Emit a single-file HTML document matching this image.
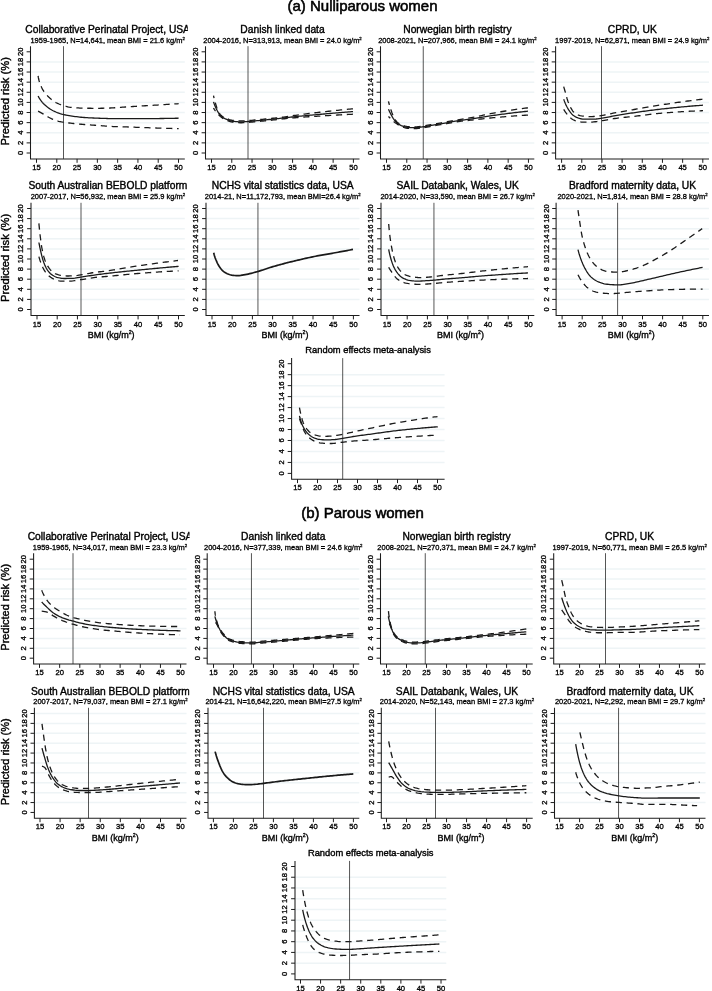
<!DOCTYPE html>
<html lang="en"><head><meta charset="utf-8"><title>Predicted risk by BMI</title>
<style>
html,body{margin:0;padding:0;background:#fff}
body{width:712px;height:991px;overflow:hidden}
svg{display:block}
text{font-family:'Liberation Sans', Arial, Helvetica, sans-serif;fill:#000;stroke:#000;stroke-width:0.25px}
.hd{stroke-width:0.55px;font-size:15px;text-anchor:middle}
.ti{stroke-width:0.38px;text-anchor:middle}
.su{stroke-width:0.3px;font-size:7.48px;text-anchor:middle}
.tk{stroke-width:0.32px;font-size:7.6px;text-anchor:middle}
.yt{stroke-width:0.4px;text-anchor:middle}
.xt{stroke-width:0.35px;font-size:9.0px;text-anchor:middle}
</style></head><body>
<svg width="712" height="991" viewBox="0 0 712 991">
<rect width="712" height="991" fill="#fff"/>
<text class="hd" x="362.5" y="10.9">(a) Nulliparous women</text>
<clipPath id="cA1"><rect x="10.5" y="20.8" width="177.3" height="16"/></clipPath>
<g><line x1="31" y1="142.88" x2="184.8" y2="142.88" stroke="#eef4f6" stroke-width="1.5"/>
<line x1="31" y1="132.76" x2="184.8" y2="132.76" stroke="#eef4f6" stroke-width="1.5"/>
<line x1="31" y1="122.64" x2="184.8" y2="122.64" stroke="#eef4f6" stroke-width="1.5"/>
<line x1="31" y1="112.52" x2="184.8" y2="112.52" stroke="#eef4f6" stroke-width="1.5"/>
<line x1="31" y1="102.4" x2="184.8" y2="102.4" stroke="#eef4f6" stroke-width="1.5"/>
<line x1="31" y1="92.28" x2="184.8" y2="92.28" stroke="#eef4f6" stroke-width="1.5"/>
<line x1="31" y1="82.16" x2="184.8" y2="82.16" stroke="#eef4f6" stroke-width="1.5"/>
<line x1="31" y1="72.04" x2="184.8" y2="72.04" stroke="#eef4f6" stroke-width="1.5"/>
<line x1="31" y1="61.92" x2="184.8" y2="61.92" stroke="#eef4f6" stroke-width="1.5"/>
<line x1="63.5" y1="46.2" x2="63.5" y2="158.9" stroke="#161616" stroke-width="0.73"/>
<path d="M38.1 75.9 L38.34 77.47 L38.66 79.01 L39.04 80.52 L39.48 82 L39.97 83.44 L40.5 84.86 L41.07 86.24 L41.67 87.59 L42.3 88.9 L43.04 90.2 L43.88 91.47 L44.81 92.71 L45.8 93.92 L46.84 95.08 L47.9 96.2 L48.97 97.27 L50.06 98.31 L51.21 99.32 L52.41 100.3 L53.66 101.21 L54.94 102.05 L56.24 102.77 L57.6 103.42 L59.01 104 L60.45 104.53 L61.91 105.02 L63.36 105.48 L64.82 105.94 L66.28 106.38 L67.76 106.77 L69.25 107.08 L70.74 107.28 L72.25 107.44 L73.76 107.6 L75.27 107.74 L76.8 107.86 L78.32 107.97 L79.85 108.06 L81.37 108.13 L82.9 108.17 L84.42 108.2 L85.94 108.22 L87.46 108.24 L88.98 108.25 L90.51 108.27 L92.03 108.28 L93.55 108.29 L95.07 108.29 L96.6 108.3 L98.12 108.3 L99.64 108.29 L101.16 108.27 L102.68 108.24 L104.21 108.2 L105.73 108.15 L107.25 108.1 L108.77 108.04 L110.29 107.98 L111.81 107.92 L113.33 107.85 L114.85 107.77 L116.37 107.68 L117.89 107.57 L119.41 107.46 L120.92 107.34 L122.44 107.22 L123.96 107.1 L125.48 106.99 L127 106.87 L128.51 106.77 L130.03 106.68 L131.55 106.58 L133.07 106.48 L134.59 106.39 L136.11 106.3 L137.63 106.21 L139.15 106.12 L140.67 106.02 L142.19 105.93 L143.71 105.85 L145.23 105.76 L146.75 105.67 L148.27 105.58 L149.79 105.49 L151.3 105.4 L152.82 105.31 L154.34 105.21 L155.86 105.12 L157.38 105.03 L158.9 104.93 L160.42 104.84 L161.94 104.75 L163.46 104.65 L164.98 104.56 L166.5 104.46 L168.02 104.37 L169.54 104.27 L171.05 104.18 L172.57 104.08 L174.09 103.99 L175.61 103.89 L177.13 103.8 L178.65 103.7" fill="none" stroke="#1a1a1a" stroke-width="1.3" stroke-dasharray="6.2 4.7"/>
<path d="M38.1 111.2 L39.45 111.91 L40.79 112.63 L42.13 113.37 L43.44 114.14 L44.74 114.95 L46.04 115.75 L47.35 116.54 L48.67 117.28 L50.03 117.97 L51.4 118.66 L52.79 119.32 L54.19 119.92 L55.61 120.45 L57.06 120.88 L58.53 121.27 L60.02 121.61 L61.52 121.92 L63.03 122.19 L64.53 122.42 L66.04 122.62 L67.56 122.81 L69.07 122.98 L70.59 123.16 L72.1 123.32 L73.62 123.49 L75.13 123.65 L76.65 123.8 L78.17 123.95 L79.69 124.1 L81.2 124.24 L82.72 124.37 L84.24 124.5 L85.76 124.63 L87.28 124.74 L88.8 124.85 L90.32 124.96 L91.84 125.06 L93.36 125.17 L94.88 125.27 L96.41 125.37 L97.93 125.48 L99.45 125.59 L100.97 125.71 L102.49 125.83 L104.01 125.95 L105.53 126.07 L107.05 126.18 L108.57 126.29 L110.09 126.39 L111.61 126.47 L113.13 126.54 L114.66 126.6 L116.18 126.65 L117.7 126.7 L119.23 126.74 L120.75 126.79 L122.28 126.83 L123.8 126.87 L125.32 126.91 L126.85 126.96 L128.37 127.01 L129.89 127.06 L131.42 127.11 L132.94 127.17 L134.47 127.22 L135.99 127.28 L137.51 127.33 L139.04 127.39 L140.56 127.44 L142.08 127.5 L143.61 127.55 L145.13 127.61 L146.65 127.67 L148.18 127.72 L149.7 127.78 L151.22 127.83 L152.75 127.88 L154.27 127.94 L155.79 127.99 L157.32 128.04 L158.84 128.09 L160.37 128.14 L161.89 128.19 L163.41 128.23 L164.94 128.28 L166.46 128.33 L167.98 128.38 L169.51 128.43 L171.03 128.47 L172.55 128.52 L174.08 128.56 L175.6 128.61 L177.13 128.66 L178.65 128.7" fill="none" stroke="#1a1a1a" stroke-width="1.3" stroke-dasharray="6.2 4.7"/>
<path d="M38.1 96 L38.83 97.37 L39.61 98.7 L40.45 99.98 L41.35 101.19 L42.29 102.34 L43.31 103.46 L44.4 104.53 L45.55 105.57 L46.74 106.56 L47.96 107.49 L49.19 108.36 L50.46 109.19 L51.77 109.97 L53.12 110.71 L54.5 111.39 L55.89 112.01 L57.29 112.57 L58.72 113.09 L60.18 113.58 L61.64 114.01 L63.12 114.4 L64.59 114.76 L66.08 115.08 L67.58 115.37 L69.09 115.64 L70.59 115.88 L72.09 116.1 L73.6 116.32 L75.11 116.53 L76.63 116.73 L78.14 116.92 L79.66 117.09 L81.17 117.25 L82.69 117.38 L84.21 117.5 L85.73 117.6 L87.24 117.7 L88.77 117.78 L90.29 117.87 L91.81 117.94 L93.33 118.01 L94.86 118.07 L96.38 118.13 L97.9 118.19 L99.43 118.24 L100.95 118.3 L102.47 118.35 L103.99 118.4 L105.52 118.45 L107.04 118.5 L108.56 118.53 L110.09 118.57 L111.61 118.59 L113.13 118.61 L114.66 118.63 L116.18 118.64 L117.7 118.66 L119.23 118.67 L120.75 118.68 L122.28 118.69 L123.8 118.7 L125.32 118.7 L126.85 118.7 L128.37 118.7 L129.89 118.7 L131.42 118.7 L132.94 118.69 L134.47 118.69 L135.99 118.69 L137.51 118.68 L139.04 118.68 L140.56 118.67 L142.08 118.67 L143.61 118.66 L145.13 118.65 L146.65 118.64 L148.18 118.63 L149.7 118.62 L151.23 118.61 L152.75 118.6 L154.27 118.58 L155.8 118.57 L157.32 118.55 L158.84 118.53 L160.37 118.52 L161.89 118.5 L163.41 118.48 L164.94 118.45 L166.46 118.43 L167.98 118.41 L169.51 118.38 L171.03 118.36 L172.56 118.33 L174.08 118.3 L175.6 118.27 L177.13 118.23 L178.65 118.2" fill="none" stroke="#1a1a1a" stroke-width="1.3"/>
<path d="M30.5 46.2 V158.9 H184.8" fill="none" stroke="#1c1c1c" stroke-width="1.05"/>
<path d="M30.5 153 h-3.9 M30.5 142.88 h-3.9 M30.5 132.76 h-3.9 M30.5 122.64 h-3.9 M30.5 112.52 h-3.9 M30.5 102.4 h-3.9 M30.5 92.28 h-3.9 M30.5 82.16 h-3.9 M30.5 72.04 h-3.9 M30.5 61.92 h-3.9 M30.5 51.8 h-3.9 M36.5 158.9 v3.9 M56.79 158.9 v3.9 M77.07 158.9 v3.9 M97.36 158.9 v3.9 M117.64 158.9 v3.9 M137.93 158.9 v3.9 M158.21 158.9 v3.9 M178.5 158.9 v3.9" fill="none" stroke="#1c1c1c" stroke-width="1"/>
<text class="tk" transform="translate(22.9 153) rotate(-90)">0</text>
<text class="tk" transform="translate(22.9 142.88) rotate(-90)">2</text>
<text class="tk" transform="translate(22.9 132.76) rotate(-90)">4</text>
<text class="tk" transform="translate(22.9 122.64) rotate(-90)">6</text>
<text class="tk" transform="translate(22.9 112.52) rotate(-90)">8</text>
<text class="tk" transform="translate(22.9 102.4) rotate(-90)">10</text>
<text class="tk" transform="translate(22.9 92.28) rotate(-90)">12</text>
<text class="tk" transform="translate(22.9 82.16) rotate(-90)">14</text>
<text class="tk" transform="translate(22.9 72.04) rotate(-90)">16</text>
<text class="tk" transform="translate(22.9 61.92) rotate(-90)">18</text>
<text class="tk" transform="translate(22.9 51.8) rotate(-90)">20</text>
<text class="tk" x="36.5" y="170">15</text>
<text class="tk" x="56.79" y="170">20</text>
<text class="tk" x="77.07" y="170">25</text>
<text class="tk" x="97.36" y="170">30</text>
<text class="tk" x="117.64" y="170">35</text>
<text class="tk" x="137.93" y="170">40</text>
<text class="tk" x="158.21" y="170">45</text>
<text class="tk" x="178.5" y="170">50</text>
<text clip-path="url(#cA1)" class="ti" style="font-size:10.25px" x="107.65" y="32.8">Collaborative Perinatal Project, USA</text>
<text class="su" x="107.65" y="42.9">1959-1965, N=14,641, mean BMI = 21.6 kg/m<tspan dy="-2.9" font-size="4.3">2</tspan></text>
<text class="yt" style="font-size:11.2px" transform="translate(9.1 101.25) rotate(-90)">Predicted risk (%)</text></g>
<clipPath id="cA2"><rect x="185.5" y="20.8" width="177" height="16"/></clipPath>
<g><line x1="206" y1="142.88" x2="359.5" y2="142.88" stroke="#eef4f6" stroke-width="1.5"/>
<line x1="206" y1="132.76" x2="359.5" y2="132.76" stroke="#eef4f6" stroke-width="1.5"/>
<line x1="206" y1="122.64" x2="359.5" y2="122.64" stroke="#eef4f6" stroke-width="1.5"/>
<line x1="206" y1="112.52" x2="359.5" y2="112.52" stroke="#eef4f6" stroke-width="1.5"/>
<line x1="206" y1="102.4" x2="359.5" y2="102.4" stroke="#eef4f6" stroke-width="1.5"/>
<line x1="206" y1="92.28" x2="359.5" y2="92.28" stroke="#eef4f6" stroke-width="1.5"/>
<line x1="206" y1="82.16" x2="359.5" y2="82.16" stroke="#eef4f6" stroke-width="1.5"/>
<line x1="206" y1="72.04" x2="359.5" y2="72.04" stroke="#eef4f6" stroke-width="1.5"/>
<line x1="206" y1="61.92" x2="359.5" y2="61.92" stroke="#eef4f6" stroke-width="1.5"/>
<line x1="248" y1="46.2" x2="248" y2="158.9" stroke="#161616" stroke-width="0.73"/>
<path d="M353 108.8 L351.49 108.94 L349.97 109.08 L348.46 109.22 L346.95 109.37 L345.44 109.52 L343.92 109.66 L342.41 109.81 L340.9 109.97 L339.39 110.12 L337.88 110.28 L336.36 110.43 L334.85 110.59 L333.34 110.75 L331.83 110.91 L330.32 111.07 L328.81 111.24 L327.3 111.4 L325.79 111.57 L324.28 111.74 L322.77 111.91 L321.26 112.08 L319.75 112.25 L318.24 112.42 L316.73 112.6 L315.22 112.77 L313.71 112.95 L312.21 113.13 L310.7 113.31 L309.19 113.5 L307.68 113.69 L306.17 113.88 L304.67 114.07 L303.16 114.26 L301.65 114.46 L300.15 114.66 L298.64 114.86 L297.13 115.06 L295.63 115.27 L294.13 115.49 L292.62 115.72 L291.12 115.96 L289.62 116.19 L288.12 116.42 L286.62 116.64 L285.11 116.85 L283.61 117.05 L282.1 117.23 L280.59 117.41 L279.08 117.58 L277.57 117.75 L276.06 117.91 L274.55 118.07 L273.03 118.23 L271.52 118.39 L270.01 118.54 L268.5 118.7 L266.99 118.85 L265.48 119 L263.96 119.14 L262.45 119.29 L260.94 119.43 L259.43 119.57 L257.91 119.72 L256.4 119.87 L254.89 120.01 L253.37 120.15 L251.86 120.29 L250.35 120.42 L248.83 120.53 L247.32 120.63 L245.8 120.74 L244.28 120.84 L242.76 120.92 L241.25 120.95 L239.73 120.93 L238.2 120.87 L236.67 120.77 L235.15 120.64 L233.64 120.48 L232.15 120.31 L230.68 120.01 L229.23 119.54 L227.8 118.96 L226.4 118.36 L224.98 117.73 L223.56 117.04 L222.23 116.26 L221.08 115.38 L220.13 114.31 L219.29 113.01 L218.54 111.62 L217.88 110.24 L217.29 108.85 L216.76 107.43 L216.27 105.98 L215.81 104.52 L215.37 103.06 L214.95 101.61 L214.55 100.14 L214.17 98.67 L213.82 97.19 L213.5 95.7" fill="none" stroke="#1a1a1a" stroke-width="1.3" stroke-dasharray="6.2 4.7"/>
<path d="M353 114.2 L351.47 114.28 L349.94 114.36 L348.42 114.43 L346.89 114.51 L345.36 114.6 L343.83 114.68 L342.31 114.76 L340.78 114.84 L339.25 114.93 L337.72 115.01 L336.2 115.1 L334.67 115.19 L333.14 115.27 L331.62 115.36 L330.09 115.45 L328.56 115.54 L327.03 115.63 L325.51 115.72 L323.98 115.81 L322.45 115.91 L320.93 116 L319.4 116.09 L317.87 116.19 L316.35 116.28 L314.82 116.38 L313.29 116.47 L311.76 116.57 L310.24 116.66 L308.71 116.76 L307.18 116.86 L305.66 116.96 L304.13 117.06 L302.61 117.17 L301.08 117.28 L299.55 117.39 L298.03 117.51 L296.5 117.63 L294.98 117.75 L293.46 117.89 L291.93 118.02 L290.41 118.17 L288.89 118.31 L287.36 118.46 L285.84 118.61 L284.32 118.77 L282.8 118.92 L281.28 119.09 L279.76 119.26 L278.24 119.43 L276.72 119.61 L275.2 119.78 L273.68 119.95 L272.16 120.12 L270.64 120.28 L269.11 120.43 L267.59 120.59 L266.07 120.74 L264.55 120.89 L263.02 121.03 L261.5 121.18 L259.98 121.32 L258.46 121.47 L256.93 121.61 L255.41 121.76 L253.89 121.91 L252.36 122.04 L250.84 122.18 L249.31 122.3 L247.79 122.4 L246.26 122.51 L244.73 122.61 L243.21 122.7 L241.68 122.75 L240.15 122.74 L238.61 122.69 L237.07 122.6 L235.54 122.48 L234.02 122.33 L232.51 122.15 L231.03 121.9 L229.56 121.46 L228.11 120.89 L226.7 120.29 L225.31 119.66 L223.92 118.96 L222.58 118.19 L221.32 117.34 L220.17 116.38 L219.11 115.26 L218.09 114.1 L217.08 112.96 L216.1 111.78 L215.18 110.56 L214.31 109.3 L213.5 108" fill="none" stroke="#1a1a1a" stroke-width="1.3" stroke-dasharray="6.2 4.7"/>
<path d="M213.5 101.85 L214.01 103.3 L214.55 104.73 L215.13 106.14 L215.74 107.54 L216.38 108.94 L217.06 110.31 L217.8 111.65 L218.58 112.98 L219.42 114.31 L220.35 115.53 L221.4 116.53 L222.63 117.39 L223.99 118.15 L225.42 118.83 L226.82 119.44 L228.24 120.04 L229.69 120.6 L231.16 121.03 L232.65 121.27 L234.15 121.44 L235.67 121.59 L237.21 121.71 L238.75 121.8 L240.28 121.84 L241.81 121.84 L243.34 121.79 L244.87 121.7 L246.4 121.6 L247.92 121.49 L249.45 121.39 L250.97 121.26 L252.5 121.13 L254.02 120.99 L255.54 120.85 L257.07 120.7 L258.59 120.55 L260.11 120.41 L261.64 120.27 L263.16 120.12 L264.68 119.97 L266.2 119.83 L267.73 119.67 L269.25 119.52 L270.77 119.37 L272.29 119.21 L273.81 119.04 L275.33 118.88 L276.85 118.7 L278.37 118.53 L279.89 118.36 L281.41 118.19 L282.93 118.02 L284.45 117.85 L285.97 117.68 L287.49 117.51 L289.01 117.34 L290.53 117.17 L292.05 117.01 L293.58 116.84 L295.1 116.68 L296.62 116.52 L298.14 116.37 L299.66 116.22 L301.18 116.07 L302.71 115.92 L304.23 115.78 L305.75 115.63 L307.28 115.49 L308.8 115.35 L310.32 115.21 L311.85 115.07 L313.37 114.93 L314.89 114.79 L316.42 114.66 L317.94 114.52 L319.46 114.39 L320.99 114.25 L322.51 114.12 L324.03 113.98 L325.56 113.85 L327.08 113.72 L328.61 113.59 L330.13 113.46 L331.65 113.33 L333.18 113.2 L334.7 113.07 L336.23 112.94 L337.75 112.82 L339.28 112.69 L340.8 112.57 L342.33 112.44 L343.85 112.32 L345.37 112.2 L346.9 112.08 L348.42 111.96 L349.95 111.84 L351.47 111.72 L353 111.6" fill="none" stroke="#1a1a1a" stroke-width="1.3"/>
<path d="M205.5 46.2 V158.9 H359.5" fill="none" stroke="#1c1c1c" stroke-width="1.05"/>
<path d="M205.5 153 h-3.9 M205.5 142.88 h-3.9 M205.5 132.76 h-3.9 M205.5 122.64 h-3.9 M205.5 112.52 h-3.9 M205.5 102.4 h-3.9 M205.5 92.28 h-3.9 M205.5 82.16 h-3.9 M205.5 72.04 h-3.9 M205.5 61.92 h-3.9 M205.5 51.8 h-3.9 M211.5 158.9 v3.9 M231.77 158.9 v3.9 M252.04 158.9 v3.9 M272.31 158.9 v3.9 M292.59 158.9 v3.9 M312.86 158.9 v3.9 M333.13 158.9 v3.9 M353.4 158.9 v3.9" fill="none" stroke="#1c1c1c" stroke-width="1"/>
<text class="tk" transform="translate(197.9 153) rotate(-90)">0</text>
<text class="tk" transform="translate(197.9 142.88) rotate(-90)">2</text>
<text class="tk" transform="translate(197.9 132.76) rotate(-90)">4</text>
<text class="tk" transform="translate(197.9 122.64) rotate(-90)">6</text>
<text class="tk" transform="translate(197.9 112.52) rotate(-90)">8</text>
<text class="tk" transform="translate(197.9 102.4) rotate(-90)">10</text>
<text class="tk" transform="translate(197.9 92.28) rotate(-90)">12</text>
<text class="tk" transform="translate(197.9 82.16) rotate(-90)">14</text>
<text class="tk" transform="translate(197.9 72.04) rotate(-90)">16</text>
<text class="tk" transform="translate(197.9 61.92) rotate(-90)">18</text>
<text class="tk" transform="translate(197.9 51.8) rotate(-90)">20</text>
<text class="tk" x="211.5" y="170">15</text>
<text class="tk" x="231.77" y="170">20</text>
<text class="tk" x="252.04" y="170">25</text>
<text class="tk" x="272.31" y="170">30</text>
<text class="tk" x="292.59" y="170">35</text>
<text class="tk" x="312.86" y="170">40</text>
<text class="tk" x="333.13" y="170">45</text>
<text class="tk" x="353.4" y="170">50</text>
<text clip-path="url(#cA2)" class="ti" style="font-size:10.25px" x="282.5" y="32.8">Danish linked data</text>
<text class="su" x="282.5" y="42.9">2004-2016, N=313,913, mean BMI = 24.0 kg/m<tspan dy="-2.9" font-size="4.3">2</tspan></text></g>
<clipPath id="cA3"><rect x="360.5" y="20.8" width="176.8" height="16"/></clipPath>
<g><line x1="381" y1="142.88" x2="534.3" y2="142.88" stroke="#eef4f6" stroke-width="1.5"/>
<line x1="381" y1="132.76" x2="534.3" y2="132.76" stroke="#eef4f6" stroke-width="1.5"/>
<line x1="381" y1="122.64" x2="534.3" y2="122.64" stroke="#eef4f6" stroke-width="1.5"/>
<line x1="381" y1="112.52" x2="534.3" y2="112.52" stroke="#eef4f6" stroke-width="1.5"/>
<line x1="381" y1="102.4" x2="534.3" y2="102.4" stroke="#eef4f6" stroke-width="1.5"/>
<line x1="381" y1="92.28" x2="534.3" y2="92.28" stroke="#eef4f6" stroke-width="1.5"/>
<line x1="381" y1="82.16" x2="534.3" y2="82.16" stroke="#eef4f6" stroke-width="1.5"/>
<line x1="381" y1="72.04" x2="534.3" y2="72.04" stroke="#eef4f6" stroke-width="1.5"/>
<line x1="381" y1="61.92" x2="534.3" y2="61.92" stroke="#eef4f6" stroke-width="1.5"/>
<line x1="423.25" y1="46.2" x2="423.25" y2="158.9" stroke="#161616" stroke-width="0.73"/>
<path d="M528 107.8 L526.49 107.98 L524.98 108.16 L523.48 108.35 L521.97 108.55 L520.47 108.75 L518.96 108.96 L517.46 109.16 L515.96 109.38 L514.46 109.6 L512.96 109.82 L511.46 110.05 L509.96 110.28 L508.46 110.51 L506.96 110.75 L505.47 110.99 L503.97 111.24 L502.47 111.49 L500.98 111.74 L499.49 111.99 L497.99 112.25 L496.5 112.51 L495.01 112.77 L493.52 113.04 L492.03 113.32 L490.54 113.62 L489.06 113.93 L487.57 114.25 L486.09 114.57 L484.61 114.9 L483.13 115.23 L481.65 115.57 L480.17 115.9 L478.69 116.22 L477.2 116.54 L475.72 116.85 L474.23 117.15 L472.74 117.44 L471.25 117.71 L469.76 117.96 L468.26 118.2 L466.76 118.44 L465.26 118.66 L463.76 118.89 L462.26 119.12 L460.76 119.35 L459.27 119.59 L457.77 119.84 L456.28 120.1 L454.78 120.37 L453.29 120.64 L451.8 120.92 L450.31 121.2 L448.82 121.48 L447.33 121.75 L445.84 122.02 L444.34 122.28 L442.85 122.54 L441.35 122.79 L439.86 123.04 L438.36 123.29 L436.86 123.54 L435.37 123.8 L433.88 124.06 L432.38 124.33 L430.89 124.61 L429.4 124.9 L427.91 125.18 L426.42 125.45 L424.92 125.7 L423.42 125.91 L421.92 126.12 L420.41 126.34 L418.91 126.54 L417.4 126.7 L415.89 126.79 L414.37 126.8 L412.85 126.77 L411.32 126.73 L409.81 126.67 L408.31 126.6 L406.82 126.43 L405.32 126.09 L403.85 125.63 L402.4 125.1 L401 124.52 L399.64 123.89 L398.31 123.08 L397.14 122.14 L396.16 121.04 L395.28 119.78 L394.5 118.43 L393.79 117.09 L393.16 115.73 L392.57 114.33 L392.02 112.9 L391.51 111.47 L391.01 110.03 L390.53 108.6 L390.07 107.15 L389.63 105.7 L389.21 104.24 L388.82 102.78 L388.45 101.3" fill="none" stroke="#1a1a1a" stroke-width="1.3" stroke-dasharray="6.2 4.7"/>
<path d="M528 115.1 L526.48 115.18 L524.97 115.27 L523.45 115.36 L521.94 115.45 L520.42 115.55 L518.91 115.65 L517.39 115.75 L515.88 115.85 L514.36 115.96 L512.85 116.07 L511.33 116.18 L509.82 116.3 L508.31 116.42 L506.79 116.54 L505.28 116.66 L503.77 116.78 L502.26 116.91 L500.74 117.04 L499.23 117.17 L497.72 117.3 L496.21 117.43 L494.7 117.56 L493.19 117.7 L491.67 117.85 L490.16 118 L488.66 118.15 L487.15 118.31 L485.64 118.48 L484.13 118.65 L482.62 118.82 L481.11 118.99 L479.6 119.16 L478.09 119.34 L476.59 119.51 L475.08 119.69 L473.57 119.86 L472.06 120.03 L470.55 120.19 L469.04 120.35 L467.53 120.51 L466.02 120.66 L464.51 120.82 L463 120.98 L461.49 121.15 L459.99 121.34 L458.48 121.53 L456.98 121.75 L455.49 121.99 L453.99 122.26 L452.5 122.54 L451.01 122.83 L449.52 123.12 L448.03 123.41 L446.53 123.7 L445.04 123.96 L443.54 124.22 L442.05 124.48 L440.55 124.73 L439.05 124.98 L437.56 125.23 L436.06 125.48 L434.56 125.74 L433.07 126 L431.58 126.28 L430.08 126.57 L428.59 126.85 L427.1 127.13 L425.6 127.39 L424.1 127.62 L422.6 127.82 L421.1 128.04 L419.59 128.25 L418.08 128.43 L416.56 128.56 L415.05 128.6 L413.53 128.59 L412 128.55 L410.48 128.5 L408.97 128.43 L407.48 128.33 L405.99 128.06 L404.5 127.64 L403.04 127.14 L401.62 126.57 L400.24 125.98 L398.93 125.24 L397.66 124.38 L396.39 123.53 L395.14 122.66 L393.93 121.75 L392.8 120.74 L391.71 119.69 L390.61 118.63 L389.53 117.57 L388.45 116.5" fill="none" stroke="#1a1a1a" stroke-width="1.3" stroke-dasharray="6.2 4.7"/>
<path d="M388.45 109.15 L389.06 110.55 L389.7 111.94 L390.38 113.31 L391.08 114.66 L391.81 116 L392.58 117.33 L393.39 118.62 L394.27 119.86 L395.22 121.07 L396.25 122.21 L397.37 123.22 L398.6 124.14 L399.93 124.93 L401.29 125.54 L402.72 126.12 L404.18 126.65 L405.67 127.08 L407.17 127.39 L408.67 127.52 L410.19 127.59 L411.72 127.65 L413.25 127.68 L414.78 127.7 L416.3 127.67 L417.82 127.56 L419.34 127.38 L420.86 127.18 L422.37 126.96 L423.89 126.75 L425.39 126.52 L426.9 126.27 L428.4 125.99 L429.9 125.7 L431.4 125.42 L432.9 125.13 L434.4 124.87 L435.91 124.61 L437.41 124.35 L438.92 124.1 L440.42 123.85 L441.93 123.6 L443.43 123.34 L444.93 123.08 L446.44 122.81 L447.94 122.54 L449.44 122.25 L450.94 121.96 L452.44 121.67 L453.94 121.39 L455.44 121.12 L456.94 120.87 L458.45 120.63 L459.96 120.42 L461.47 120.21 L462.98 120.02 L464.5 119.83 L466.01 119.65 L467.53 119.47 L469.04 119.28 L470.56 119.08 L472.07 118.87 L473.58 118.65 L475.09 118.42 L476.59 118.18 L478.1 117.93 L479.61 117.68 L481.11 117.43 L482.62 117.17 L484.12 116.91 L485.63 116.66 L487.13 116.41 L488.64 116.16 L490.14 115.92 L491.65 115.69 L493.16 115.46 L494.67 115.25 L496.18 115.04 L497.69 114.83 L499.21 114.62 L500.72 114.42 L502.23 114.22 L503.74 114.02 L505.25 113.82 L506.77 113.63 L508.28 113.43 L509.8 113.24 L511.31 113.06 L512.83 112.87 L514.34 112.69 L515.86 112.51 L517.37 112.34 L518.89 112.16 L520.41 112 L521.92 111.83 L523.44 111.67 L524.96 111.51 L526.48 111.35 L528 111.2" fill="none" stroke="#1a1a1a" stroke-width="1.3"/>
<path d="M380.5 46.2 V158.9 H534.3" fill="none" stroke="#1c1c1c" stroke-width="1.05"/>
<path d="M380.5 153 h-3.9 M380.5 142.88 h-3.9 M380.5 132.76 h-3.9 M380.5 122.64 h-3.9 M380.5 112.52 h-3.9 M380.5 102.4 h-3.9 M380.5 92.28 h-3.9 M380.5 82.16 h-3.9 M380.5 72.04 h-3.9 M380.5 61.92 h-3.9 M380.5 51.8 h-3.9 M386.5 158.9 v3.9 M406.78 158.9 v3.9 M427.06 158.9 v3.9 M447.34 158.9 v3.9 M467.61 158.9 v3.9 M487.89 158.9 v3.9 M508.17 158.9 v3.9 M528.45 158.9 v3.9" fill="none" stroke="#1c1c1c" stroke-width="1"/>
<text class="tk" transform="translate(372.9 153) rotate(-90)">0</text>
<text class="tk" transform="translate(372.9 142.88) rotate(-90)">2</text>
<text class="tk" transform="translate(372.9 132.76) rotate(-90)">4</text>
<text class="tk" transform="translate(372.9 122.64) rotate(-90)">6</text>
<text class="tk" transform="translate(372.9 112.52) rotate(-90)">8</text>
<text class="tk" transform="translate(372.9 102.4) rotate(-90)">10</text>
<text class="tk" transform="translate(372.9 92.28) rotate(-90)">12</text>
<text class="tk" transform="translate(372.9 82.16) rotate(-90)">14</text>
<text class="tk" transform="translate(372.9 72.04) rotate(-90)">16</text>
<text class="tk" transform="translate(372.9 61.92) rotate(-90)">18</text>
<text class="tk" transform="translate(372.9 51.8) rotate(-90)">20</text>
<text class="tk" x="386.5" y="170">15</text>
<text class="tk" x="406.78" y="170">20</text>
<text class="tk" x="427.06" y="170">25</text>
<text class="tk" x="447.34" y="170">30</text>
<text class="tk" x="467.61" y="170">35</text>
<text class="tk" x="487.89" y="170">40</text>
<text class="tk" x="508.17" y="170">45</text>
<text class="tk" x="528.45" y="170">50</text>
<text clip-path="url(#cA3)" class="ti" style="font-size:10.25px" x="457.4" y="32.8">Norwegian birth registry</text>
<text class="su" x="457.4" y="42.9">2008-2021, N=207,966, mean BMI = 24.1 kg/m<tspan dy="-2.9" font-size="4.3">2</tspan></text></g>
<clipPath id="cA4"><rect x="535.6" y="20.8" width="176.4" height="16"/></clipPath>
<g><line x1="556.1" y1="142.88" x2="709" y2="142.88" stroke="#eef4f6" stroke-width="1.5"/>
<line x1="556.1" y1="132.76" x2="709" y2="132.76" stroke="#eef4f6" stroke-width="1.5"/>
<line x1="556.1" y1="122.64" x2="709" y2="122.64" stroke="#eef4f6" stroke-width="1.5"/>
<line x1="556.1" y1="112.52" x2="709" y2="112.52" stroke="#eef4f6" stroke-width="1.5"/>
<line x1="556.1" y1="102.4" x2="709" y2="102.4" stroke="#eef4f6" stroke-width="1.5"/>
<line x1="556.1" y1="92.28" x2="709" y2="92.28" stroke="#eef4f6" stroke-width="1.5"/>
<line x1="556.1" y1="82.16" x2="709" y2="82.16" stroke="#eef4f6" stroke-width="1.5"/>
<line x1="556.1" y1="72.04" x2="709" y2="72.04" stroke="#eef4f6" stroke-width="1.5"/>
<line x1="556.1" y1="61.92" x2="709" y2="61.92" stroke="#eef4f6" stroke-width="1.5"/>
<line x1="601.5" y1="46.2" x2="601.5" y2="158.9" stroke="#161616" stroke-width="0.73"/>
<path d="M563.7 86.6 L564.12 88.06 L564.54 89.51 L564.96 90.97 L565.38 92.43 L565.78 93.9 L566.17 95.37 L566.56 96.84 L566.97 98.3 L567.42 99.74 L567.9 101.18 L568.43 102.61 L568.99 104.04 L569.6 105.45 L570.25 106.81 L570.96 108.13 L571.74 109.44 L572.61 110.79 L573.57 112.05 L574.62 113.14 L575.75 113.95 L577.06 114.6 L578.52 115.15 L580.04 115.59 L581.53 115.87 L583.01 116.1 L584.52 116.3 L586.04 116.46 L587.57 116.57 L589.08 116.6 L590.6 116.59 L592.12 116.55 L593.64 116.5 L595.15 116.43 L596.66 116.32 L598.16 116.11 L599.66 115.84 L601.16 115.56 L602.65 115.3 L604.14 115.02 L605.63 114.73 L607.12 114.44 L608.61 114.13 L610.09 113.83 L611.58 113.53 L613.07 113.23 L614.56 112.95 L616.05 112.67 L617.54 112.4 L619.04 112.13 L620.53 111.86 L622.02 111.59 L623.52 111.33 L625.01 111.07 L626.51 110.81 L628 110.55 L629.5 110.29 L630.99 110.03 L632.49 109.77 L633.98 109.5 L635.48 109.24 L636.97 108.98 L638.47 108.72 L639.96 108.46 L641.45 108.19 L642.95 107.93 L644.44 107.67 L645.94 107.41 L647.44 107.16 L648.93 106.9 L650.43 106.65 L651.92 106.39 L653.42 106.14 L654.92 105.89 L656.41 105.65 L657.91 105.41 L659.41 105.17 L660.91 104.93 L662.41 104.7 L663.91 104.47 L665.41 104.24 L666.91 104.02 L668.41 103.79 L669.91 103.57 L671.41 103.34 L672.91 103.12 L674.41 102.9 L675.91 102.68 L677.41 102.47 L678.92 102.25 L680.42 102.04 L681.92 101.83 L683.43 101.62 L684.93 101.42 L686.43 101.21 L687.94 101.01 L689.44 100.82 L690.95 100.62 L692.45 100.43 L693.96 100.24 L695.46 100.05 L696.97 99.87 L698.48 99.69 L699.98 99.52 L701.49 99.36 L703 99.2" fill="none" stroke="#1a1a1a" stroke-width="1.3" stroke-dasharray="6.2 4.7"/>
<path d="M563.7 109.3 L564.48 110.64 L565.31 111.93 L566.2 113.17 L567.14 114.36 L568.13 115.51 L569.18 116.65 L570.3 117.74 L571.49 118.69 L572.74 119.48 L574.09 120.21 L575.52 120.84 L576.99 121.33 L578.45 121.65 L579.96 121.91 L581.49 122.1 L583.02 122.2 L584.54 122.2 L586.07 122.2 L587.6 122.2 L589.13 122.2 L590.65 122.19 L592.18 122.1 L593.7 121.94 L595.22 121.76 L596.73 121.57 L598.24 121.34 L599.75 121.09 L601.26 120.84 L602.76 120.59 L604.27 120.32 L605.77 120.05 L607.27 119.77 L608.78 119.49 L610.28 119.22 L611.78 118.96 L613.29 118.72 L614.8 118.5 L616.31 118.3 L617.83 118.11 L619.34 117.92 L620.86 117.75 L622.38 117.58 L623.89 117.42 L625.41 117.26 L626.93 117.1 L628.45 116.94 L629.97 116.79 L631.49 116.63 L633.01 116.46 L634.53 116.3 L636.05 116.12 L637.57 115.95 L639.08 115.76 L640.6 115.58 L642.12 115.39 L643.63 115.2 L645.15 115.01 L646.66 114.83 L648.18 114.64 L649.7 114.45 L651.21 114.27 L652.73 114.09 L654.25 113.92 L655.77 113.75 L657.28 113.59 L658.8 113.44 L660.32 113.29 L661.84 113.15 L663.36 113.03 L664.88 112.91 L666.4 112.79 L667.93 112.67 L669.45 112.56 L670.97 112.44 L672.49 112.33 L674.01 112.22 L675.54 112.12 L677.06 112.01 L678.58 111.91 L680.11 111.81 L681.63 111.71 L683.16 111.61 L684.68 111.52 L686.21 111.43 L687.73 111.34 L689.26 111.26 L690.78 111.18 L692.31 111.11 L693.83 111.04 L695.36 110.97 L696.89 110.91 L698.42 110.85 L699.94 110.79 L701.47 110.74 L703 110.7" fill="none" stroke="#1a1a1a" stroke-width="1.3" stroke-dasharray="6.2 4.7"/>
<path d="M563.7 99.2 L564.2 100.65 L564.74 102.07 L565.33 103.48 L565.95 104.86 L566.61 106.22 L567.31 107.56 L568.06 108.89 L568.87 110.19 L569.73 111.44 L570.65 112.65 L571.64 113.84 L572.72 114.91 L573.9 115.8 L575.2 116.61 L576.58 117.31 L577.99 117.85 L579.43 118.33 L580.92 118.75 L582.42 119.03 L583.92 119.12 L585.43 119.15 L586.96 119.18 L588.48 119.19 L590.01 119.2 L591.52 119.18 L593.04 119.13 L594.56 119.06 L596.08 118.98 L597.59 118.84 L599.1 118.65 L600.6 118.43 L602.11 118.21 L603.6 117.97 L605.1 117.7 L606.59 117.42 L608.08 117.12 L609.57 116.82 L611.06 116.51 L612.55 116.22 L614.05 115.94 L615.54 115.67 L617.04 115.41 L618.54 115.15 L620.03 114.9 L621.53 114.64 L623.03 114.4 L624.53 114.15 L626.03 113.91 L627.53 113.68 L629.03 113.45 L630.54 113.22 L632.04 113 L633.54 112.77 L635.04 112.55 L636.55 112.33 L638.05 112.12 L639.55 111.9 L641.06 111.68 L642.56 111.47 L644.07 111.26 L645.57 111.05 L647.08 110.85 L648.59 110.65 L650.09 110.45 L651.6 110.25 L653.11 110.06 L654.61 109.87 L656.12 109.68 L657.63 109.5 L659.14 109.32 L660.65 109.14 L662.16 108.97 L663.67 108.8 L665.17 108.64 L666.68 108.48 L668.19 108.32 L669.7 108.16 L671.21 108 L672.73 107.84 L674.24 107.69 L675.75 107.54 L677.26 107.39 L678.77 107.24 L680.28 107.09 L681.8 106.95 L683.31 106.81 L684.82 106.67 L686.33 106.53 L687.85 106.4 L689.36 106.26 L690.88 106.14 L692.39 106.01 L693.91 105.88 L695.42 105.76 L696.94 105.64 L698.45 105.53 L699.97 105.42 L701.48 105.31 L703 105.2" fill="none" stroke="#1a1a1a" stroke-width="1.3"/>
<path d="M555.6 46.2 V158.9 H709" fill="none" stroke="#1c1c1c" stroke-width="1.05"/>
<path d="M555.6 153 h-3.9 M555.6 142.88 h-3.9 M555.6 132.76 h-3.9 M555.6 122.64 h-3.9 M555.6 112.52 h-3.9 M555.6 102.4 h-3.9 M555.6 92.28 h-3.9 M555.6 82.16 h-3.9 M555.6 72.04 h-3.9 M555.6 61.92 h-3.9 M555.6 51.8 h-3.9 M561.6 158.9 v3.9 M581.77 158.9 v3.9 M601.94 158.9 v3.9 M622.11 158.9 v3.9 M642.29 158.9 v3.9 M662.46 158.9 v3.9 M682.63 158.9 v3.9 M702.8 158.9 v3.9" fill="none" stroke="#1c1c1c" stroke-width="1"/>
<text class="tk" transform="translate(548 153) rotate(-90)">0</text>
<text class="tk" transform="translate(548 142.88) rotate(-90)">2</text>
<text class="tk" transform="translate(548 132.76) rotate(-90)">4</text>
<text class="tk" transform="translate(548 122.64) rotate(-90)">6</text>
<text class="tk" transform="translate(548 112.52) rotate(-90)">8</text>
<text class="tk" transform="translate(548 102.4) rotate(-90)">10</text>
<text class="tk" transform="translate(548 92.28) rotate(-90)">12</text>
<text class="tk" transform="translate(548 82.16) rotate(-90)">14</text>
<text class="tk" transform="translate(548 72.04) rotate(-90)">16</text>
<text class="tk" transform="translate(548 61.92) rotate(-90)">18</text>
<text class="tk" transform="translate(548 51.8) rotate(-90)">20</text>
<text class="tk" x="561.6" y="170">15</text>
<text class="tk" x="581.77" y="170">20</text>
<text class="tk" x="601.94" y="170">25</text>
<text class="tk" x="622.11" y="170">30</text>
<text class="tk" x="642.29" y="170">35</text>
<text class="tk" x="662.46" y="170">40</text>
<text class="tk" x="682.63" y="170">45</text>
<text class="tk" x="702.8" y="170">50</text>
<text clip-path="url(#cA4)" class="ti" style="font-size:10.25px" x="632.3" y="32.8">CPRD, UK</text>
<text class="su" x="632.3" y="42.9">1997-2019, N=62,871, mean BMI = 24.9 kg/m<tspan dy="-2.9" font-size="4.3">2</tspan></text></g>
<clipPath id="cA5"><rect x="11" y="177.2" width="176.8" height="16"/></clipPath>
<g><line x1="31.5" y1="299.4" x2="184.8" y2="299.4" stroke="#eef4f6" stroke-width="1.5"/>
<line x1="31.5" y1="289.3" x2="184.8" y2="289.3" stroke="#eef4f6" stroke-width="1.5"/>
<line x1="31.5" y1="279.2" x2="184.8" y2="279.2" stroke="#eef4f6" stroke-width="1.5"/>
<line x1="31.5" y1="269.1" x2="184.8" y2="269.1" stroke="#eef4f6" stroke-width="1.5"/>
<line x1="31.5" y1="259" x2="184.8" y2="259" stroke="#eef4f6" stroke-width="1.5"/>
<line x1="31.5" y1="248.9" x2="184.8" y2="248.9" stroke="#eef4f6" stroke-width="1.5"/>
<line x1="31.5" y1="238.8" x2="184.8" y2="238.8" stroke="#eef4f6" stroke-width="1.5"/>
<line x1="31.5" y1="228.7" x2="184.8" y2="228.7" stroke="#eef4f6" stroke-width="1.5"/>
<line x1="31.5" y1="218.6" x2="184.8" y2="218.6" stroke="#eef4f6" stroke-width="1.5"/>
<line x1="31.5" y1="208.5" x2="184.8" y2="208.5" stroke="#eef4f6" stroke-width="1.5"/>
<line x1="81" y1="202.8" x2="81" y2="315.5" stroke="#161616" stroke-width="0.73"/>
<path d="M38.9 223.4 L39.03 224.91 L39.18 226.42 L39.32 227.93 L39.48 229.44 L39.64 230.94 L39.81 232.45 L39.98 233.95 L40.15 235.46 L40.33 236.96 L40.52 238.47 L40.71 239.97 L40.9 241.48 L41.1 242.98 L41.31 244.48 L41.54 245.98 L41.78 247.48 L42.05 248.96 L42.34 250.45 L42.65 251.94 L42.99 253.43 L43.36 254.91 L43.75 256.38 L44.18 257.83 L44.63 259.26 L45.13 260.68 L45.69 262.09 L46.33 263.5 L47.02 264.87 L47.77 266.2 L48.57 267.46 L49.43 268.68 L50.41 269.9 L51.47 271.06 L52.61 272.09 L53.81 272.91 L55.1 273.57 L56.51 274.17 L57.99 274.68 L59.49 275.08 L60.97 275.36 L62.46 275.59 L63.97 275.79 L65.49 275.93 L67 276 L68.52 275.99 L70.03 275.96 L71.55 275.9 L73.07 275.83 L74.58 275.74 L76.08 275.62 L77.58 275.42 L79.08 275.16 L80.57 274.89 L82.07 274.64 L83.56 274.38 L85.05 274.11 L86.54 273.83 L88.03 273.55 L89.53 273.27 L91.02 273 L92.51 272.74 L94 272.5 L95.5 272.29 L97.01 272.09 L98.51 271.92 L100.02 271.76 L101.53 271.6 L103.03 271.44 L104.54 271.26 L106.04 271.06 L107.54 270.86 L109.04 270.64 L110.54 270.42 L112.03 270.19 L113.53 269.96 L115.03 269.72 L116.52 269.47 L118.02 269.22 L119.51 268.97 L121.01 268.72 L122.5 268.46 L124 268.2 L125.49 267.95 L126.98 267.69 L128.48 267.44 L129.97 267.19 L131.47 266.94 L132.96 266.69 L134.46 266.45 L135.96 266.21 L137.46 265.99 L138.95 265.76 L140.45 265.54 L141.95 265.33 L143.45 265.11 L144.95 264.89 L146.45 264.68 L147.95 264.47 L149.45 264.25 L150.95 264.04 L152.45 263.83 L153.95 263.63 L155.46 263.42 L156.96 263.21 L158.46 263.01 L159.96 262.81 L161.46 262.61 L162.96 262.41 L164.47 262.21 L165.97 262.01 L167.47 261.82 L168.98 261.63 L170.48 261.43 L171.98 261.24 L173.49 261.06 L174.99 260.87 L176.5 260.68 L178 260.5" fill="none" stroke="#1a1a1a" stroke-width="1.3" stroke-dasharray="6.2 4.7"/>
<path d="M38.9 256.6 L39.3 258.07 L39.74 259.53 L40.22 260.98 L40.73 262.41 L41.27 263.82 L41.84 265.23 L42.44 266.63 L43.08 268.03 L43.78 269.39 L44.53 270.7 L45.36 271.94 L46.29 273.16 L47.31 274.33 L48.39 275.41 L49.52 276.38 L50.73 277.29 L52.02 278.16 L53.37 278.91 L54.75 279.51 L56.16 279.99 L57.63 280.44 L59.13 280.81 L60.65 281.05 L62.16 281.1 L63.67 281.1 L65.19 281.1 L66.71 281.1 L68.24 281.1 L69.76 281.1 L71.27 281.04 L72.78 280.91 L74.28 280.72 L75.79 280.48 L77.29 280.22 L78.8 279.96 L80.3 279.72 L81.8 279.5 L83.31 279.27 L84.81 279.02 L86.31 278.77 L87.8 278.51 L89.3 278.26 L90.8 278.02 L92.31 277.79 L93.81 277.59 L95.32 277.41 L96.83 277.26 L98.34 277.13 L99.85 277 L101.37 276.89 L102.88 276.77 L104.4 276.65 L105.91 276.52 L107.42 276.38 L108.94 276.24 L110.45 276.1 L111.96 275.95 L113.47 275.8 L114.99 275.65 L116.5 275.5 L118.01 275.34 L119.52 275.19 L121.03 275.04 L122.54 274.88 L124.06 274.73 L125.57 274.58 L127.08 274.43 L128.59 274.29 L130.1 274.14 L131.62 274 L133.13 273.86 L134.64 273.73 L136.16 273.6 L137.67 273.48 L139.18 273.36 L140.7 273.25 L142.21 273.13 L143.73 273.02 L145.24 272.91 L146.76 272.8 L148.27 272.69 L149.79 272.58 L151.3 272.47 L152.82 272.37 L154.33 272.26 L155.85 272.16 L157.36 272.06 L158.88 271.96 L160.39 271.86 L161.91 271.77 L163.43 271.68 L164.94 271.58 L166.46 271.49 L167.98 271.41 L169.49 271.32 L171.01 271.24 L172.53 271.15 L174.05 271.08 L175.56 271 L177.08 270.92 L178.6 270.85" fill="none" stroke="#1a1a1a" stroke-width="1.3" stroke-dasharray="6.2 4.7"/>
<path d="M38.9 242.5 L39.17 243.99 L39.46 245.48 L39.76 246.97 L40.07 248.45 L40.4 249.93 L40.74 251.4 L41.08 252.87 L41.44 254.35 L41.81 255.83 L42.2 257.3 L42.6 258.76 L43.04 260.21 L43.51 261.64 L44.01 263.06 L44.57 264.48 L45.18 265.89 L45.84 267.27 L46.55 268.6 L47.33 269.86 L48.22 271.1 L49.2 272.31 L50.27 273.42 L51.4 274.4 L52.6 275.25 L53.92 276.04 L55.31 276.74 L56.74 277.27 L58.17 277.64 L59.65 277.98 L61.16 278.26 L62.68 278.45 L64.19 278.5 L65.7 278.49 L67.21 278.47 L68.73 278.44 L70.25 278.39 L71.77 278.34 L73.27 278.28 L74.78 278.15 L76.28 277.93 L77.77 277.68 L79.27 277.41 L80.77 277.15 L82.26 276.92 L83.76 276.69 L85.26 276.46 L86.75 276.22 L88.25 275.98 L89.75 275.75 L91.24 275.51 L92.74 275.29 L94.24 275.07 L95.74 274.85 L97.24 274.65 L98.74 274.44 L100.24 274.24 L101.74 274.05 L103.25 273.86 L104.75 273.68 L106.25 273.5 L107.76 273.32 L109.26 273.15 L110.77 272.98 L112.27 272.81 L113.78 272.64 L115.28 272.47 L116.79 272.31 L118.29 272.14 L119.8 271.98 L121.3 271.82 L122.81 271.66 L124.32 271.51 L125.82 271.35 L127.33 271.2 L128.84 271.04 L130.35 270.89 L131.85 270.74 L133.36 270.58 L134.87 270.43 L136.37 270.28 L137.88 270.13 L139.39 269.98 L140.89 269.83 L142.4 269.68 L143.91 269.54 L145.42 269.39 L146.92 269.24 L148.43 269.1 L149.94 268.95 L151.45 268.81 L152.95 268.66 L154.46 268.52 L155.97 268.38 L157.48 268.24 L158.99 268.1 L160.49 267.96 L162 267.82 L163.51 267.68 L165.02 267.54 L166.53 267.41 L168.04 267.27 L169.55 267.14 L171.05 267 L172.56 266.87 L174.07 266.74 L175.58 266.61 L177.09 266.48 L178.6 266.35" fill="none" stroke="#1a1a1a" stroke-width="1.3"/>
<path d="M31 202.8 V315.5 H184.8" fill="none" stroke="#1c1c1c" stroke-width="1.05"/>
<path d="M31 309.5 h-3.9 M31 299.4 h-3.9 M31 289.3 h-3.9 M31 279.2 h-3.9 M31 269.1 h-3.9 M31 259 h-3.9 M31 248.9 h-3.9 M31 238.8 h-3.9 M31 228.7 h-3.9 M31 218.6 h-3.9 M31 208.5 h-3.9 M37 315.5 v3.9 M57.21 315.5 v3.9 M77.43 315.5 v3.9 M97.64 315.5 v3.9 M117.86 315.5 v3.9 M138.07 315.5 v3.9 M158.29 315.5 v3.9 M178.5 315.5 v3.9" fill="none" stroke="#1c1c1c" stroke-width="1"/>
<text class="tk" transform="translate(23.4 309.5) rotate(-90)">0</text>
<text class="tk" transform="translate(23.4 299.4) rotate(-90)">2</text>
<text class="tk" transform="translate(23.4 289.3) rotate(-90)">4</text>
<text class="tk" transform="translate(23.4 279.2) rotate(-90)">6</text>
<text class="tk" transform="translate(23.4 269.1) rotate(-90)">8</text>
<text class="tk" transform="translate(23.4 259) rotate(-90)">10</text>
<text class="tk" transform="translate(23.4 248.9) rotate(-90)">12</text>
<text class="tk" transform="translate(23.4 238.8) rotate(-90)">14</text>
<text class="tk" transform="translate(23.4 228.7) rotate(-90)">16</text>
<text class="tk" transform="translate(23.4 218.6) rotate(-90)">18</text>
<text class="tk" transform="translate(23.4 208.5) rotate(-90)">20</text>
<text class="tk" x="37" y="326.7">15</text>
<text class="tk" x="57.21" y="326.7">20</text>
<text class="tk" x="77.43" y="326.7">25</text>
<text class="tk" x="97.64" y="326.7">30</text>
<text class="tk" x="117.86" y="326.7">35</text>
<text class="tk" x="138.07" y="326.7">40</text>
<text class="tk" x="158.29" y="326.7">45</text>
<text class="tk" x="178.5" y="326.7">50</text>
<text clip-path="url(#cA5)" class="ti" style="font-size:10.25px" x="107.9" y="189.2">South Australian BEBOLD platform</text>
<text class="su" x="107.9" y="199.3">2007-2017, N=56,932, mean BMI = 25.9 kg/m<tspan dy="-2.9" font-size="4.3">2</tspan></text>
<text class="yt" style="font-size:11.2px" transform="translate(9.1 257.85) rotate(-90)">Predicted risk (%)</text>
<text class="xt" x="111.1" y="337.6">BMI (kg/m<tspan dy="-3.7" font-size="5.2">2</tspan><tspan dy="3.7">)</tspan></text></g>
<clipPath id="cA6"><rect x="186" y="177.2" width="176.5" height="16"/></clipPath>
<g><line x1="206.5" y1="299.4" x2="359.5" y2="299.4" stroke="#eef4f6" stroke-width="1.5"/>
<line x1="206.5" y1="289.3" x2="359.5" y2="289.3" stroke="#eef4f6" stroke-width="1.5"/>
<line x1="206.5" y1="279.2" x2="359.5" y2="279.2" stroke="#eef4f6" stroke-width="1.5"/>
<line x1="206.5" y1="269.1" x2="359.5" y2="269.1" stroke="#eef4f6" stroke-width="1.5"/>
<line x1="206.5" y1="259" x2="359.5" y2="259" stroke="#eef4f6" stroke-width="1.5"/>
<line x1="206.5" y1="248.9" x2="359.5" y2="248.9" stroke="#eef4f6" stroke-width="1.5"/>
<line x1="206.5" y1="238.8" x2="359.5" y2="238.8" stroke="#eef4f6" stroke-width="1.5"/>
<line x1="206.5" y1="228.7" x2="359.5" y2="228.7" stroke="#eef4f6" stroke-width="1.5"/>
<line x1="206.5" y1="218.6" x2="359.5" y2="218.6" stroke="#eef4f6" stroke-width="1.5"/>
<line x1="206.5" y1="208.5" x2="359.5" y2="208.5" stroke="#eef4f6" stroke-width="1.5"/>
<line x1="257.95" y1="202.8" x2="257.95" y2="315.5" stroke="#161616" stroke-width="0.73"/>
<path d="M213.7 252.75 L214.06 254.26 L214.47 255.74 L214.95 257.2 L215.47 258.63 L216.03 260.04 L216.63 261.42 L217.25 262.78 L217.91 264.12 L218.65 265.47 L219.46 266.79 L220.34 268.06 L221.28 269.25 L222.28 270.33 L223.4 271.36 L224.64 272.31 L225.94 273.12 L227.27 273.75 L228.69 274.31 L230.16 274.79 L231.65 275.13 L233.14 275.34 L234.65 275.52 L236.18 275.65 L237.69 275.7 L239.2 275.63 L240.71 275.44 L242.22 275.19 L243.72 274.92 L245.21 274.66 L246.69 274.37 L248.18 274.05 L249.66 273.7 L251.13 273.33 L252.6 272.95 L254.07 272.55 L255.54 272.15 L257 271.74 L258.46 271.33 L259.91 270.89 L261.36 270.42 L262.8 269.94 L264.23 269.45 L265.67 268.96 L267.11 268.47 L268.55 267.99 L270 267.53 L271.45 267.09 L272.91 266.66 L274.36 266.24 L275.82 265.82 L277.28 265.41 L278.75 265.01 L280.21 264.61 L281.68 264.21 L283.15 263.82 L284.62 263.44 L286.09 263.05 L287.56 262.68 L289.03 262.3 L290.5 261.93 L291.98 261.57 L293.45 261.21 L294.92 260.85 L296.4 260.5 L297.88 260.15 L299.35 259.8 L300.83 259.46 L302.31 259.12 L303.79 258.78 L305.28 258.45 L306.76 258.12 L308.24 257.79 L309.73 257.47 L311.21 257.16 L312.7 256.85 L314.19 256.54 L315.67 256.24 L317.16 255.95 L318.65 255.66 L320.14 255.38 L321.64 255.11 L323.13 254.84 L324.62 254.58 L326.12 254.32 L327.62 254.06 L329.11 253.8 L330.61 253.55 L332.11 253.29 L333.6 253.03 L335.1 252.77 L336.59 252.5 L338.09 252.23 L339.58 251.96 L341.07 251.68 L342.56 251.4 L344.06 251.12 L345.55 250.84 L347.04 250.55 L348.53 250.26 L350.02 249.98 L351.51 249.69 L353 249.4" fill="none" stroke="#1a1a1a" stroke-width="1.7"/>
<path d="M206 202.8 V315.5 H359.5" fill="none" stroke="#1c1c1c" stroke-width="1.05"/>
<path d="M206 309.5 h-3.9 M206 299.4 h-3.9 M206 289.3 h-3.9 M206 279.2 h-3.9 M206 269.1 h-3.9 M206 259 h-3.9 M206 248.9 h-3.9 M206 238.8 h-3.9 M206 228.7 h-3.9 M206 218.6 h-3.9 M206 208.5 h-3.9 M212 315.5 v3.9 M232.2 315.5 v3.9 M252.4 315.5 v3.9 M272.6 315.5 v3.9 M292.8 315.5 v3.9 M313 315.5 v3.9 M333.2 315.5 v3.9 M353.4 315.5 v3.9" fill="none" stroke="#1c1c1c" stroke-width="1"/>
<text class="tk" transform="translate(198.4 309.5) rotate(-90)">0</text>
<text class="tk" transform="translate(198.4 299.4) rotate(-90)">2</text>
<text class="tk" transform="translate(198.4 289.3) rotate(-90)">4</text>
<text class="tk" transform="translate(198.4 279.2) rotate(-90)">6</text>
<text class="tk" transform="translate(198.4 269.1) rotate(-90)">8</text>
<text class="tk" transform="translate(198.4 259) rotate(-90)">10</text>
<text class="tk" transform="translate(198.4 248.9) rotate(-90)">12</text>
<text class="tk" transform="translate(198.4 238.8) rotate(-90)">14</text>
<text class="tk" transform="translate(198.4 228.7) rotate(-90)">16</text>
<text class="tk" transform="translate(198.4 218.6) rotate(-90)">18</text>
<text class="tk" transform="translate(198.4 208.5) rotate(-90)">20</text>
<text class="tk" x="212" y="326.7">15</text>
<text class="tk" x="232.2" y="326.7">20</text>
<text class="tk" x="252.4" y="326.7">25</text>
<text class="tk" x="272.6" y="326.7">30</text>
<text class="tk" x="292.8" y="326.7">35</text>
<text class="tk" x="313" y="326.7">40</text>
<text class="tk" x="333.2" y="326.7">45</text>
<text class="tk" x="353.4" y="326.7">50</text>
<text clip-path="url(#cA6)" class="ti" style="font-size:10.25px" x="282.75" y="189.2">NCHS vital statistics data, USA</text>
<text class="su" x="282.75" y="199.3">2014-21, N=11,172,793, mean BMI=26.4 kg/m<tspan dy="-2.9" font-size="4.3">2</tspan></text>
<text class="xt" x="285.05" y="337.6">BMI (kg/m<tspan dy="-3.7" font-size="5.2">2</tspan><tspan dy="3.7">)</tspan></text></g>
<clipPath id="cA7"><rect x="361" y="177.2" width="176.3" height="16"/></clipPath>
<g><line x1="381.5" y1="299.4" x2="534.3" y2="299.4" stroke="#eef4f6" stroke-width="1.5"/>
<line x1="381.5" y1="289.3" x2="534.3" y2="289.3" stroke="#eef4f6" stroke-width="1.5"/>
<line x1="381.5" y1="279.2" x2="534.3" y2="279.2" stroke="#eef4f6" stroke-width="1.5"/>
<line x1="381.5" y1="269.1" x2="534.3" y2="269.1" stroke="#eef4f6" stroke-width="1.5"/>
<line x1="381.5" y1="259" x2="534.3" y2="259" stroke="#eef4f6" stroke-width="1.5"/>
<line x1="381.5" y1="248.9" x2="534.3" y2="248.9" stroke="#eef4f6" stroke-width="1.5"/>
<line x1="381.5" y1="238.8" x2="534.3" y2="238.8" stroke="#eef4f6" stroke-width="1.5"/>
<line x1="381.5" y1="228.7" x2="534.3" y2="228.7" stroke="#eef4f6" stroke-width="1.5"/>
<line x1="381.5" y1="218.6" x2="534.3" y2="218.6" stroke="#eef4f6" stroke-width="1.5"/>
<line x1="381.5" y1="208.5" x2="534.3" y2="208.5" stroke="#eef4f6" stroke-width="1.5"/>
<line x1="433.95" y1="202.8" x2="433.95" y2="315.5" stroke="#161616" stroke-width="0.73"/>
<path d="M388.7 224 L388.82 225.51 L388.94 227.02 L389.08 228.53 L389.23 230.04 L389.39 231.55 L389.55 233.05 L389.72 234.55 L389.9 236.06 L390.1 237.56 L390.3 239.06 L390.52 240.56 L390.75 242.06 L390.99 243.56 L391.24 245.05 L391.51 246.54 L391.78 248.03 L392.07 249.52 L392.36 251.02 L392.68 252.51 L393.02 253.99 L393.37 255.46 L393.76 256.92 L394.17 258.37 L394.62 259.8 L395.12 261.25 L395.67 262.69 L396.27 264.11 L396.92 265.49 L397.62 266.82 L398.37 268.08 L399.22 269.35 L400.17 270.62 L401.2 271.82 L402.3 272.9 L403.46 273.79 L404.68 274.49 L406.03 275.13 L407.47 275.7 L408.97 276.19 L410.47 276.58 L411.96 276.84 L413.44 277.04 L414.94 277.23 L416.46 277.39 L417.98 277.51 L419.5 277.58 L421.02 277.6 L422.53 277.56 L424.04 277.47 L425.55 277.35 L427.07 277.23 L428.58 277.1 L430.09 276.98 L431.59 276.83 L433.1 276.68 L434.61 276.52 L436.11 276.33 L437.61 276.13 L439.11 275.92 L440.61 275.71 L442.12 275.51 L443.62 275.31 L445.12 275.13 L446.63 274.97 L448.13 274.82 L449.64 274.69 L451.15 274.55 L452.66 274.42 L454.17 274.29 L455.68 274.15 L457.19 274 L458.69 273.84 L460.2 273.68 L461.7 273.51 L463.21 273.34 L464.71 273.17 L466.22 272.99 L467.72 272.8 L469.22 272.62 L470.73 272.43 L472.23 272.24 L473.74 272.06 L475.24 271.87 L476.74 271.68 L478.25 271.5 L479.75 271.31 L481.25 271.13 L482.76 270.96 L484.26 270.78 L485.77 270.61 L487.27 270.45 L488.78 270.29 L490.29 270.14 L491.79 269.98 L493.3 269.83 L494.81 269.68 L496.31 269.53 L497.82 269.38 L499.33 269.23 L500.84 269.08 L502.34 268.94 L503.85 268.79 L505.36 268.65 L506.87 268.51 L508.38 268.37 L509.88 268.23 L511.39 268.09 L512.9 267.96 L514.41 267.83 L515.92 267.69 L517.43 267.56 L518.94 267.43 L520.45 267.31 L521.96 267.18 L523.47 267.06 L524.98 266.94 L526.49 266.82 L528 266.7" fill="none" stroke="#1a1a1a" stroke-width="1.3" stroke-dasharray="6.2 4.7"/>
<path d="M388.7 267.25 L389.45 268.59 L390.24 269.9 L391.07 271.18 L391.92 272.45 L392.8 273.68 L393.71 274.93 L394.65 276.17 L395.63 277.36 L396.69 278.43 L397.82 279.39 L399.07 280.31 L400.4 281.14 L401.77 281.84 L403.17 282.35 L404.61 282.78 L406.1 283.16 L407.61 283.48 L409.14 283.73 L410.66 283.91 L412.17 284.04 L413.69 284.16 L415.22 284.26 L416.75 284.34 L418.28 284.39 L419.8 284.4 L421.33 284.37 L422.85 284.3 L424.38 284.2 L425.9 284.09 L427.42 283.98 L428.95 283.88 L430.47 283.77 L431.99 283.65 L433.51 283.53 L435.03 283.4 L436.55 283.25 L438.07 283.1 L439.59 282.95 L441.11 282.79 L442.63 282.64 L444.15 282.5 L445.67 282.38 L447.19 282.26 L448.71 282.15 L450.24 282.05 L451.76 281.95 L453.28 281.85 L454.81 281.75 L456.33 281.65 L457.85 281.56 L459.38 281.46 L460.9 281.37 L462.43 281.27 L463.95 281.17 L465.47 281.08 L467 280.98 L468.52 280.89 L470.04 280.79 L471.57 280.7 L473.09 280.61 L474.62 280.52 L476.14 280.43 L477.66 280.35 L479.19 280.26 L480.71 280.18 L482.24 280.1 L483.76 280.03 L485.28 279.95 L486.81 279.88 L488.33 279.82 L489.86 279.75 L491.38 279.69 L492.91 279.62 L494.43 279.56 L495.96 279.5 L497.48 279.44 L499.01 279.38 L500.53 279.32 L502.06 279.26 L503.58 279.21 L505.11 279.15 L506.64 279.1 L508.16 279.05 L509.69 278.99 L511.21 278.94 L512.74 278.9 L514.26 278.85 L515.79 278.8 L517.32 278.76 L518.84 278.72 L520.37 278.68 L521.89 278.64 L523.42 278.6 L524.95 278.56 L526.47 278.53 L528 278.5" fill="none" stroke="#1a1a1a" stroke-width="1.3" stroke-dasharray="6.2 4.7"/>
<path d="M388.7 249.3 L388.97 250.81 L389.28 252.31 L389.61 253.8 L389.96 255.29 L390.34 256.76 L390.74 258.23 L391.16 259.7 L391.61 261.16 L392.09 262.62 L392.61 264.06 L393.17 265.48 L393.78 266.87 L394.44 268.24 L395.16 269.61 L395.96 270.94 L396.8 272.22 L397.71 273.41 L398.7 274.56 L399.79 275.69 L400.97 276.72 L402.2 277.6 L403.48 278.32 L404.86 278.97 L406.31 279.56 L407.8 280.04 L409.29 280.37 L410.77 280.58 L412.29 280.77 L413.82 280.93 L415.35 281.04 L416.88 281.1 L418.41 281.09 L419.93 281.05 L421.46 280.98 L422.98 280.89 L424.51 280.8 L426.03 280.71 L427.56 280.63 L429.08 280.54 L430.6 280.44 L432.13 280.33 L433.65 280.22 L435.17 280.09 L436.69 279.93 L438.21 279.77 L439.72 279.6 L441.24 279.42 L442.76 279.26 L444.28 279.1 L445.8 278.97 L447.32 278.85 L448.84 278.74 L450.36 278.63 L451.89 278.52 L453.41 278.42 L454.93 278.31 L456.45 278.19 L457.97 278.06 L459.5 277.94 L461.02 277.81 L462.54 277.68 L464.06 277.55 L465.58 277.42 L467.1 277.28 L468.62 277.15 L470.14 277.01 L471.66 276.88 L473.18 276.74 L474.7 276.61 L476.22 276.47 L477.75 276.34 L479.27 276.21 L480.79 276.08 L482.31 275.95 L483.83 275.83 L485.35 275.71 L486.87 275.59 L488.39 275.47 L489.92 275.36 L491.44 275.25 L492.96 275.14 L494.48 275.03 L496.01 274.92 L497.53 274.81 L499.05 274.71 L500.57 274.6 L502.1 274.5 L503.62 274.39 L505.14 274.29 L506.67 274.19 L508.19 274.09 L509.71 273.99 L511.24 273.89 L512.76 273.8 L514.28 273.7 L515.81 273.61 L517.33 273.51 L518.85 273.42 L520.38 273.33 L521.9 273.24 L523.43 273.15 L524.95 273.07 L526.48 272.98 L528 272.9" fill="none" stroke="#1a1a1a" stroke-width="1.3"/>
<path d="M381 202.8 V315.5 H534.3" fill="none" stroke="#1c1c1c" stroke-width="1.05"/>
<path d="M381 309.5 h-3.9 M381 299.4 h-3.9 M381 289.3 h-3.9 M381 279.2 h-3.9 M381 269.1 h-3.9 M381 259 h-3.9 M381 248.9 h-3.9 M381 238.8 h-3.9 M381 228.7 h-3.9 M381 218.6 h-3.9 M381 208.5 h-3.9 M387 315.5 v3.9 M407.21 315.5 v3.9 M427.41 315.5 v3.9 M447.62 315.5 v3.9 M467.83 315.5 v3.9 M488.04 315.5 v3.9 M508.24 315.5 v3.9 M528.45 315.5 v3.9" fill="none" stroke="#1c1c1c" stroke-width="1"/>
<text class="tk" transform="translate(373.4 309.5) rotate(-90)">0</text>
<text class="tk" transform="translate(373.4 299.4) rotate(-90)">2</text>
<text class="tk" transform="translate(373.4 289.3) rotate(-90)">4</text>
<text class="tk" transform="translate(373.4 279.2) rotate(-90)">6</text>
<text class="tk" transform="translate(373.4 269.1) rotate(-90)">8</text>
<text class="tk" transform="translate(373.4 259) rotate(-90)">10</text>
<text class="tk" transform="translate(373.4 248.9) rotate(-90)">12</text>
<text class="tk" transform="translate(373.4 238.8) rotate(-90)">14</text>
<text class="tk" transform="translate(373.4 228.7) rotate(-90)">16</text>
<text class="tk" transform="translate(373.4 218.6) rotate(-90)">18</text>
<text class="tk" transform="translate(373.4 208.5) rotate(-90)">20</text>
<text class="tk" x="387" y="326.7">15</text>
<text class="tk" x="407.21" y="326.7">20</text>
<text class="tk" x="427.41" y="326.7">25</text>
<text class="tk" x="447.62" y="326.7">30</text>
<text class="tk" x="467.83" y="326.7">35</text>
<text class="tk" x="488.04" y="326.7">40</text>
<text class="tk" x="508.24" y="326.7">45</text>
<text class="tk" x="528.45" y="326.7">50</text>
<text clip-path="url(#cA7)" class="ti" style="font-size:10.25px" x="457.65" y="189.2">SAIL Databank, Wales, UK</text>
<text class="su" x="457.65" y="199.3">2014-2020, N=33,590, mean BMI = 26.7 kg/m<tspan dy="-2.9" font-size="4.3">2</tspan></text>
<text class="xt" x="460.5" y="337.6">BMI (kg/m<tspan dy="-3.7" font-size="5.2">2</tspan><tspan dy="3.7">)</tspan></text></g>
<clipPath id="cA8"><rect x="536.1" y="177.2" width="175.9" height="16"/></clipPath>
<g><line x1="556.6" y1="299.4" x2="709" y2="299.4" stroke="#eef4f6" stroke-width="1.5"/>
<line x1="556.6" y1="289.3" x2="709" y2="289.3" stroke="#eef4f6" stroke-width="1.5"/>
<line x1="556.6" y1="279.2" x2="709" y2="279.2" stroke="#eef4f6" stroke-width="1.5"/>
<line x1="556.6" y1="269.1" x2="709" y2="269.1" stroke="#eef4f6" stroke-width="1.5"/>
<line x1="556.6" y1="259" x2="709" y2="259" stroke="#eef4f6" stroke-width="1.5"/>
<line x1="556.6" y1="248.9" x2="709" y2="248.9" stroke="#eef4f6" stroke-width="1.5"/>
<line x1="556.6" y1="238.8" x2="709" y2="238.8" stroke="#eef4f6" stroke-width="1.5"/>
<line x1="556.6" y1="228.7" x2="709" y2="228.7" stroke="#eef4f6" stroke-width="1.5"/>
<line x1="556.6" y1="218.6" x2="709" y2="218.6" stroke="#eef4f6" stroke-width="1.5"/>
<line x1="556.6" y1="208.5" x2="709" y2="208.5" stroke="#eef4f6" stroke-width="1.5"/>
<line x1="617.6" y1="202.8" x2="617.6" y2="315.5" stroke="#161616" stroke-width="0.73"/>
<path d="M578 210.05 L578.21 211.55 L578.42 213.05 L578.64 214.56 L578.86 216.06 L579.08 217.56 L579.3 219.06 L579.53 220.56 L579.76 222.06 L579.99 223.56 L580.22 225.06 L580.44 226.56 L580.67 228.06 L580.9 229.56 L581.14 231.06 L581.4 232.56 L581.67 234.05 L581.96 235.53 L582.28 237.01 L582.62 238.49 L582.99 239.96 L583.38 241.44 L583.79 242.9 L584.22 244.36 L584.67 245.81 L585.14 247.25 L585.63 248.67 L586.16 250.1 L586.71 251.52 L587.3 252.94 L587.92 254.34 L588.58 255.71 L589.27 257.05 L590 258.35 L590.78 259.65 L591.63 260.93 L592.54 262.19 L593.5 263.39 L594.51 264.52 L595.56 265.55 L596.69 266.54 L597.91 267.5 L599.19 268.39 L600.52 269.17 L601.87 269.81 L603.25 270.33 L604.69 270.83 L606.17 271.27 L607.67 271.62 L609.18 271.85 L610.68 271.93 L612.19 271.99 L613.71 272.04 L615.24 272.08 L616.76 272.1 L618.27 272.09 L619.78 272.01 L621.28 271.84 L622.79 271.6 L624.29 271.31 L625.78 270.99 L627.27 270.66 L628.75 270.33 L630.22 270 L631.68 269.62 L633.14 269.2 L634.59 268.74 L636.04 268.26 L637.48 267.75 L638.91 267.22 L640.33 266.68 L641.74 266.12 L643.13 265.56 L644.52 264.96 L645.89 264.33 L647.26 263.67 L648.62 262.99 L649.97 262.29 L651.32 261.57 L652.66 260.85 L653.99 260.12 L655.33 259.4 L656.66 258.68 L657.99 257.95 L659.31 257.21 L660.63 256.46 L661.95 255.7 L663.26 254.94 L664.57 254.17 L665.87 253.38 L667.17 252.6 L668.46 251.8 L669.74 251 L671.02 250.18 L672.29 249.36 L673.55 248.52 L674.81 247.67 L676.07 246.82 L677.32 245.96 L678.57 245.1 L679.82 244.24 L681.07 243.38 L682.32 242.52 L683.57 241.66 L684.82 240.8 L686.07 239.94 L687.31 239.07 L688.56 238.21 L689.8 237.34 L691.04 236.46 L692.28 235.59 L693.53 234.72 L694.77 233.85 L696.01 232.98 L697.25 232.1 L698.49 231.23 L699.73 230.35 L700.96 229.48 L702.2 228.6" fill="none" stroke="#1a1a1a" stroke-width="1.3" stroke-dasharray="6.2 4.7"/>
<path d="M578 274.8 L578.69 276.17 L579.43 277.52 L580.21 278.83 L581.03 280.11 L581.89 281.35 L582.79 282.58 L583.73 283.8 L584.73 285 L585.77 286.14 L586.86 287.18 L588 288.11 L589.23 289.01 L590.54 289.86 L591.91 290.62 L593.3 291.25 L594.71 291.72 L596.16 292.1 L597.65 292.44 L599.17 292.72 L600.7 292.95 L602.21 293.11 L603.73 293.24 L605.25 293.36 L606.77 293.46 L608.29 293.54 L609.82 293.59 L611.34 293.6 L612.86 293.57 L614.39 293.5 L615.91 293.42 L617.43 293.32 L618.95 293.22 L620.47 293.1 L621.98 292.96 L623.5 292.8 L625.01 292.63 L626.53 292.46 L628.04 292.3 L629.56 292.15 L631.08 292.01 L632.6 291.89 L634.11 291.77 L635.63 291.66 L637.15 291.55 L638.67 291.44 L640.19 291.34 L641.71 291.23 L643.23 291.13 L644.75 291.03 L646.27 290.93 L647.79 290.83 L649.31 290.73 L650.83 290.63 L652.36 290.52 L653.88 290.42 L655.4 290.31 L656.92 290.21 L658.44 290.12 L659.96 290.03 L661.48 289.95 L663 289.87 L664.52 289.81 L666.04 289.75 L667.57 289.69 L669.09 289.64 L670.61 289.59 L672.13 289.54 L673.66 289.5 L675.18 289.45 L676.7 289.41 L678.23 289.38 L679.75 289.35 L681.27 289.32 L682.8 289.3 L684.32 289.27 L685.84 289.25 L687.37 289.23 L688.89 289.21 L690.41 289.19 L691.94 289.17 L693.46 289.15 L694.98 289.14 L696.51 289.13 L698.03 289.12 L699.55 289.11 L701.08 289.1 L702.6 289.1" fill="none" stroke="#1a1a1a" stroke-width="1.3" stroke-dasharray="6.2 4.7"/>
<path d="M578 249.6 L578.37 251.08 L578.76 252.55 L579.18 254.02 L579.63 255.47 L580.1 256.91 L580.59 258.34 L581.11 259.76 L581.65 261.19 L582.22 262.6 L582.82 264.01 L583.45 265.4 L584.11 266.77 L584.81 268.12 L585.53 269.43 L586.3 270.75 L587.11 272.07 L587.97 273.36 L588.88 274.61 L589.84 275.78 L590.85 276.86 L591.94 277.85 L593.14 278.8 L594.41 279.7 L595.73 280.51 L597.08 281.22 L598.44 281.82 L599.84 282.39 L601.29 282.92 L602.76 283.4 L604.25 283.79 L605.74 284.09 L607.23 284.27 L608.72 284.42 L610.24 284.55 L611.76 284.67 L613.28 284.77 L614.81 284.84 L616.33 284.88 L617.85 284.9 L619.36 284.86 L620.87 284.75 L622.38 284.58 L623.89 284.37 L625.39 284.13 L626.9 283.87 L628.4 283.59 L629.9 283.32 L631.4 283.07 L632.89 282.8 L634.38 282.52 L635.87 282.21 L637.35 281.89 L638.83 281.56 L640.32 281.21 L641.8 280.87 L643.28 280.52 L644.76 280.17 L646.24 279.83 L647.72 279.49 L649.2 279.15 L650.68 278.81 L652.16 278.46 L653.64 278.11 L655.11 277.76 L656.59 277.41 L658.07 277.06 L659.55 276.71 L661.03 276.36 L662.5 276.01 L663.98 275.66 L665.46 275.32 L666.94 274.98 L668.42 274.65 L669.91 274.31 L671.39 273.97 L672.87 273.63 L674.35 273.3 L675.83 272.96 L677.31 272.63 L678.8 272.3 L680.28 271.98 L681.77 271.66 L683.25 271.34 L684.74 271.02 L686.22 270.71 L687.71 270.4 L689.2 270.09 L690.68 269.78 L692.17 269.47 L693.66 269.17 L695.15 268.87 L696.64 268.57 L698.13 268.28 L699.62 267.98 L701.11 267.69 L702.6 267.4" fill="none" stroke="#1a1a1a" stroke-width="1.3"/>
<path d="M556.1 202.8 V315.5 H709" fill="none" stroke="#1c1c1c" stroke-width="1.05"/>
<path d="M556.1 309.5 h-3.9 M556.1 299.4 h-3.9 M556.1 289.3 h-3.9 M556.1 279.2 h-3.9 M556.1 269.1 h-3.9 M556.1 259 h-3.9 M556.1 248.9 h-3.9 M556.1 238.8 h-3.9 M556.1 228.7 h-3.9 M556.1 218.6 h-3.9 M556.1 208.5 h-3.9 M562.1 315.5 v3.9 M582.2 315.5 v3.9 M602.3 315.5 v3.9 M622.4 315.5 v3.9 M642.5 315.5 v3.9 M662.6 315.5 v3.9 M682.7 315.5 v3.9 M702.8 315.5 v3.9" fill="none" stroke="#1c1c1c" stroke-width="1"/>
<text class="tk" transform="translate(548.5 309.5) rotate(-90)">0</text>
<text class="tk" transform="translate(548.5 299.4) rotate(-90)">2</text>
<text class="tk" transform="translate(548.5 289.3) rotate(-90)">4</text>
<text class="tk" transform="translate(548.5 279.2) rotate(-90)">6</text>
<text class="tk" transform="translate(548.5 269.1) rotate(-90)">8</text>
<text class="tk" transform="translate(548.5 259) rotate(-90)">10</text>
<text class="tk" transform="translate(548.5 248.9) rotate(-90)">12</text>
<text class="tk" transform="translate(548.5 238.8) rotate(-90)">14</text>
<text class="tk" transform="translate(548.5 228.7) rotate(-90)">16</text>
<text class="tk" transform="translate(548.5 218.6) rotate(-90)">18</text>
<text class="tk" transform="translate(548.5 208.5) rotate(-90)">20</text>
<text class="tk" x="562.1" y="326.7">15</text>
<text class="tk" x="582.2" y="326.7">20</text>
<text class="tk" x="602.3" y="326.7">25</text>
<text class="tk" x="622.4" y="326.7">30</text>
<text class="tk" x="642.5" y="326.7">35</text>
<text class="tk" x="662.6" y="326.7">40</text>
<text class="tk" x="682.7" y="326.7">45</text>
<text class="tk" x="702.8" y="326.7">50</text>
<text clip-path="url(#cA8)" class="ti" style="font-size:10.25px" x="632.55" y="189.2">Bradford maternity data, UK</text>
<text class="su" x="632.55" y="199.3">2020-2021, N=1,814, mean BMI = 28.8 kg/m<tspan dy="-2.9" font-size="4.3">2</tspan></text>
<text class="xt" x="631.2" y="337.6">BMI (kg/m<tspan dy="-3.7" font-size="5.2">2</tspan><tspan dy="3.7">)</tspan></text></g>
<g><line x1="292.1" y1="462.43" x2="444.6" y2="462.43" stroke="#eef4f6" stroke-width="1.5"/>
<line x1="292.1" y1="451.46" x2="444.6" y2="451.46" stroke="#eef4f6" stroke-width="1.5"/>
<line x1="292.1" y1="440.49" x2="444.6" y2="440.49" stroke="#eef4f6" stroke-width="1.5"/>
<line x1="292.1" y1="429.52" x2="444.6" y2="429.52" stroke="#eef4f6" stroke-width="1.5"/>
<line x1="292.1" y1="418.55" x2="444.6" y2="418.55" stroke="#eef4f6" stroke-width="1.5"/>
<line x1="292.1" y1="407.58" x2="444.6" y2="407.58" stroke="#eef4f6" stroke-width="1.5"/>
<line x1="292.1" y1="396.61" x2="444.6" y2="396.61" stroke="#eef4f6" stroke-width="1.5"/>
<line x1="292.1" y1="385.64" x2="444.6" y2="385.64" stroke="#eef4f6" stroke-width="1.5"/>
<line x1="292.1" y1="374.67" x2="444.6" y2="374.67" stroke="#eef4f6" stroke-width="1.5"/>
<line x1="342.7" y1="358.1" x2="342.7" y2="479.2" stroke="#161616" stroke-width="0.73"/>
<path d="M299.45 407.6 L299.73 409.11 L300.03 410.61 L300.34 412.1 L300.68 413.59 L301.03 415.08 L301.39 416.57 L301.78 418.06 L302.19 419.54 L302.65 420.99 L303.16 422.42 L303.76 423.83 L304.44 425.22 L305.19 426.56 L306 427.83 L306.9 429.09 L307.89 430.32 L308.96 431.45 L310.1 432.42 L311.33 433.22 L312.69 433.96 L314.13 434.59 L315.59 435.09 L317.05 435.47 L318.54 435.82 L320.06 436.12 L321.59 436.3 L323.11 436.35 L324.64 436.33 L326.17 436.29 L327.7 436.23 L329.23 436.17 L330.75 436.09 L332.27 435.98 L333.79 435.82 L335.31 435.61 L336.82 435.37 L338.33 435.1 L339.84 434.83 L341.35 434.55 L342.85 434.27 L344.35 433.99 L345.84 433.67 L347.34 433.34 L348.83 432.99 L350.31 432.63 L351.8 432.27 L353.29 431.91 L354.78 431.56 L356.27 431.23 L357.77 430.91 L359.26 430.59 L360.76 430.28 L362.25 429.97 L363.75 429.66 L365.25 429.35 L366.75 429.04 L368.25 428.73 L369.74 428.42 L371.24 428.11 L372.74 427.79 L374.23 427.47 L375.73 427.15 L377.22 426.83 L378.72 426.51 L380.21 426.19 L381.71 425.87 L383.21 425.55 L384.7 425.24 L386.2 424.93 L387.7 424.62 L389.2 424.31 L390.69 424.01 L392.19 423.71 L393.69 423.42 L395.2 423.14 L396.7 422.86 L398.2 422.59 L399.71 422.32 L401.21 422.06 L402.72 421.8 L404.22 421.54 L405.73 421.29 L407.24 421.04 L408.74 420.79 L410.25 420.54 L411.76 420.29 L413.27 420.05 L414.78 419.81 L416.29 419.57 L417.8 419.34 L419.31 419.11 L420.83 418.88 L422.34 418.66 L423.85 418.44 L425.37 418.22 L426.88 418 L428.4 417.79 L429.91 417.58 L431.43 417.38 L432.95 417.18 L434.46 416.98 L435.98 416.79 L437.5 416.6" fill="none" stroke="#1a1a1a" stroke-width="1.3" stroke-dasharray="6.2 4.7"/>
<path d="M299.45 418.6 L299.95 420.03 L300.46 421.46 L300.98 422.88 L301.52 424.3 L302.06 425.72 L302.59 427.15 L303.12 428.59 L303.69 430.01 L304.32 431.37 L305.03 432.67 L305.87 433.94 L306.8 435.18 L307.82 436.34 L308.88 437.41 L310 438.38 L311.22 439.31 L312.52 440.16 L313.87 440.89 L315.23 441.47 L316.65 441.98 L318.12 442.44 L319.62 442.81 L321.12 443.05 L322.61 443.18 L324.12 443.28 L325.63 443.37 L327.16 443.43 L328.68 443.48 L330.2 443.5 L331.71 443.48 L333.22 443.39 L334.73 443.25 L336.23 443.06 L337.74 442.86 L339.25 442.64 L340.75 442.43 L342.26 442.25 L343.77 442.09 L345.27 441.92 L346.78 441.75 L348.29 441.58 L349.8 441.42 L351.3 441.26 L352.81 441.11 L354.32 440.97 L355.83 440.84 L357.34 440.73 L358.86 440.64 L360.37 440.56 L361.89 440.48 L363.4 440.4 L364.91 440.31 L366.43 440.2 L367.94 440.09 L369.45 439.98 L370.96 439.86 L372.47 439.74 L373.98 439.61 L375.49 439.49 L377 439.35 L378.52 439.22 L380.03 439.09 L381.54 438.95 L383.05 438.81 L384.56 438.68 L386.07 438.54 L387.58 438.41 L389.09 438.27 L390.6 438.14 L392.11 438.01 L393.62 437.89 L395.13 437.77 L396.64 437.65 L398.15 437.54 L399.67 437.43 L401.18 437.32 L402.69 437.22 L404.2 437.11 L405.72 437.01 L407.23 436.91 L408.74 436.81 L410.25 436.7 L411.77 436.61 L413.28 436.51 L414.79 436.41 L416.31 436.31 L417.82 436.22 L419.33 436.12 L420.85 436.03 L422.36 435.94 L423.87 435.85 L425.39 435.76 L426.9 435.67 L428.41 435.59 L429.93 435.5 L431.44 435.42 L432.96 435.34 L434.47 435.26 L435.99 435.18 L437.5 435.1" fill="none" stroke="#1a1a1a" stroke-width="1.3" stroke-dasharray="6.2 4.7"/>
<path d="M299.45 415.8 L299.8 417.29 L300.2 418.77 L300.63 420.22 L301.11 421.67 L301.62 423.09 L302.17 424.52 L302.78 425.93 L303.44 427.31 L304.16 428.63 L304.95 429.92 L305.84 431.19 L306.8 432.4 L307.82 433.52 L308.9 434.55 L310.09 435.55 L311.35 436.46 L312.66 437.24 L314.01 437.85 L315.43 438.42 L316.9 438.91 L318.4 439.27 L319.89 439.46 L321.39 439.61 L322.91 439.73 L324.44 439.83 L325.97 439.88 L327.5 439.9 L329.02 439.87 L330.54 439.81 L332.06 439.72 L333.58 439.62 L335.09 439.5 L336.6 439.31 L338.11 439.08 L339.61 438.82 L341.12 438.56 L342.62 438.31 L344.12 438.07 L345.62 437.82 L347.12 437.56 L348.62 437.29 L350.12 437.03 L351.62 436.77 L353.12 436.51 L354.63 436.27 L356.13 436.04 L357.64 435.83 L359.15 435.63 L360.66 435.44 L362.17 435.26 L363.68 435.07 L365.19 434.88 L366.7 434.68 L368.21 434.47 L369.72 434.27 L371.23 434.06 L372.73 433.85 L374.24 433.64 L375.75 433.43 L377.26 433.21 L378.77 433 L380.27 432.79 L381.78 432.57 L383.29 432.36 L384.8 432.15 L386.31 431.95 L387.81 431.74 L389.32 431.54 L390.83 431.34 L392.34 431.15 L393.85 430.96 L395.36 430.78 L396.87 430.6 L398.39 430.43 L399.9 430.27 L401.41 430.11 L402.92 429.94 L404.44 429.78 L405.95 429.62 L407.46 429.47 L408.98 429.31 L410.49 429.16 L412.01 429.01 L413.52 428.86 L415.04 428.71 L416.55 428.57 L418.07 428.42 L419.59 428.28 L421.1 428.15 L422.62 428.01 L424.13 427.88 L425.65 427.75 L427.17 427.62 L428.69 427.49 L430.21 427.37 L431.72 427.25 L433.24 427.13 L434.76 427.02 L436.28 426.91 L437.8 426.8" fill="none" stroke="#1a1a1a" stroke-width="1.3"/>
<path d="M291.6 358.1 V479.2 H444.6" fill="none" stroke="#1c1c1c" stroke-width="1.05"/>
<path d="M291.6 473.4 h-3.9 M291.6 462.43 h-3.9 M291.6 451.46 h-3.9 M291.6 440.49 h-3.9 M291.6 429.52 h-3.9 M291.6 418.55 h-3.9 M291.6 407.58 h-3.9 M291.6 396.61 h-3.9 M291.6 385.64 h-3.9 M291.6 374.67 h-3.9 M291.6 363.7 h-3.9 M297.5 479.2 v3.9 M317.5 479.2 v3.9 M337.5 479.2 v3.9 M357.5 479.2 v3.9 M377.5 479.2 v3.9 M397.5 479.2 v3.9 M417.5 479.2 v3.9 M437.5 479.2 v3.9" fill="none" stroke="#1c1c1c" stroke-width="1"/>
<text class="tk" transform="translate(284 473.4) rotate(-90)">0</text>
<text class="tk" transform="translate(284 462.43) rotate(-90)">2</text>
<text class="tk" transform="translate(284 451.46) rotate(-90)">4</text>
<text class="tk" transform="translate(284 440.49) rotate(-90)">6</text>
<text class="tk" transform="translate(284 429.52) rotate(-90)">8</text>
<text class="tk" transform="translate(284 418.55) rotate(-90)">10</text>
<text class="tk" transform="translate(284 407.58) rotate(-90)">12</text>
<text class="tk" transform="translate(284 396.61) rotate(-90)">14</text>
<text class="tk" transform="translate(284 385.64) rotate(-90)">16</text>
<text class="tk" transform="translate(284 374.67) rotate(-90)">18</text>
<text class="tk" transform="translate(284 363.7) rotate(-90)">20</text>
<text class="tk" x="297.5" y="490.3">15</text>
<text class="tk" x="317.5" y="490.3">20</text>
<text class="tk" x="337.5" y="490.3">25</text>
<text class="tk" x="357.5" y="490.3">30</text>
<text class="tk" x="377.5" y="490.3">35</text>
<text class="tk" x="397.5" y="490.3">40</text>
<text class="tk" x="417.5" y="490.3">45</text>
<text class="tk" x="437.5" y="490.3">50</text>
<text class="ti" style="font-size:9.35px" x="368.1" y="353.2">Random effects meta-analysis</text></g>
<text class="hd" x="362.5" y="518.3">(b) Parous women</text>
<clipPath id="cB1"><rect x="13.6" y="528.1" width="175.9" height="16"/></clipPath>
<g><line x1="34.1" y1="648.3" x2="186.5" y2="648.3" stroke="#eef4f6" stroke-width="1.5"/>
<line x1="34.1" y1="638.4" x2="186.5" y2="638.4" stroke="#eef4f6" stroke-width="1.5"/>
<line x1="34.1" y1="628.5" x2="186.5" y2="628.5" stroke="#eef4f6" stroke-width="1.5"/>
<line x1="34.1" y1="618.6" x2="186.5" y2="618.6" stroke="#eef4f6" stroke-width="1.5"/>
<line x1="34.1" y1="608.7" x2="186.5" y2="608.7" stroke="#eef4f6" stroke-width="1.5"/>
<line x1="34.1" y1="598.8" x2="186.5" y2="598.8" stroke="#eef4f6" stroke-width="1.5"/>
<line x1="34.1" y1="588.9" x2="186.5" y2="588.9" stroke="#eef4f6" stroke-width="1.5"/>
<line x1="34.1" y1="579" x2="186.5" y2="579" stroke="#eef4f6" stroke-width="1.5"/>
<line x1="34.1" y1="569.1" x2="186.5" y2="569.1" stroke="#eef4f6" stroke-width="1.5"/>
<line x1="73" y1="553.2" x2="73" y2="664" stroke="#161616" stroke-width="0.73"/>
<path d="M41.7 590.2 L42.25 591.63 L42.85 593.04 L43.5 594.42 L44.2 595.77 L44.95 597.1 L45.75 598.42 L46.59 599.7 L47.49 600.93 L48.43 602.11 L49.45 603.25 L50.52 604.35 L51.65 605.41 L52.8 606.42 L53.97 607.37 L55.19 608.28 L56.45 609.16 L57.73 609.99 L59.04 610.8 L60.35 611.59 L61.66 612.36 L62.99 613.13 L64.33 613.87 L65.69 614.58 L67.06 615.24 L68.45 615.85 L69.87 616.41 L71.31 616.93 L72.77 617.4 L74.23 617.83 L75.7 618.22 L77.19 618.59 L78.68 618.94 L80.17 619.28 L81.66 619.61 L83.15 619.94 L84.64 620.27 L86.13 620.59 L87.63 620.9 L89.13 621.2 L90.63 621.48 L92.13 621.74 L93.64 621.98 L95.15 622.21 L96.66 622.42 L98.17 622.62 L99.69 622.82 L101.21 623 L102.73 623.17 L104.24 623.32 L105.76 623.47 L107.28 623.61 L108.81 623.73 L110.33 623.85 L111.85 623.96 L113.37 624.08 L114.9 624.19 L116.42 624.31 L117.94 624.42 L119.47 624.53 L120.99 624.64 L122.51 624.75 L124.04 624.86 L125.56 624.96 L127.09 625.06 L128.61 625.16 L130.13 625.26 L131.66 625.35 L133.18 625.43 L134.71 625.51 L136.23 625.58 L137.76 625.65 L139.28 625.72 L140.81 625.77 L142.33 625.82 L143.86 625.87 L145.38 625.91 L146.91 625.96 L148.44 626.01 L149.96 626.05 L151.49 626.1 L153.02 626.14 L154.54 626.18 L156.07 626.22 L157.6 626.26 L159.12 626.3 L160.65 626.33 L162.18 626.36 L163.7 626.39 L165.23 626.41 L166.76 626.44 L168.28 626.46 L169.81 626.47 L171.34 626.49 L172.87 626.49 L174.39 626.5 L175.92 626.5 L177.45 626.5 L178.97 626.5 L180.5 626.5" fill="none" stroke="#1a1a1a" stroke-width="1.3" stroke-dasharray="6.2 4.7"/>
<path d="M41.7 611.2 L43.25 611.35 L44.77 611.62 L46.23 611.97 L47.63 612.42 L48.97 613.09 L50.28 613.9 L51.57 614.78 L52.88 615.63 L54.2 616.4 L55.52 617.17 L56.84 617.94 L58.18 618.68 L59.53 619.38 L60.9 620.02 L62.3 620.62 L63.72 621.19 L65.15 621.73 L66.59 622.24 L68.03 622.73 L69.49 623.18 L70.95 623.6 L72.42 624.01 L73.89 624.42 L75.36 624.84 L76.83 625.26 L78.3 625.67 L79.77 626.06 L81.25 626.42 L82.74 626.75 L84.23 627.06 L85.72 627.36 L87.22 627.65 L88.73 627.92 L90.23 628.18 L91.73 628.43 L93.24 628.67 L94.75 628.9 L96.26 629.12 L97.77 629.34 L99.28 629.54 L100.79 629.73 L102.31 629.91 L103.82 630.08 L105.34 630.23 L106.86 630.37 L108.38 630.49 L109.9 630.62 L111.41 630.75 L112.93 630.89 L114.45 631.02 L115.97 631.16 L117.49 631.29 L119.01 631.43 L120.53 631.57 L122.05 631.7 L123.57 631.84 L125.09 631.97 L126.61 632.1 L128.13 632.23 L129.65 632.35 L131.17 632.48 L132.69 632.59 L134.21 632.71 L135.73 632.82 L137.25 632.92 L138.77 633.02 L140.29 633.12 L141.81 633.21 L143.33 633.29 L144.86 633.37 L146.38 633.46 L147.9 633.54 L149.42 633.62 L150.94 633.7 L152.47 633.77 L153.99 633.85 L155.51 633.92 L157.04 634 L158.56 634.07 L160.08 634.14 L161.61 634.2 L163.13 634.27 L164.65 634.33 L166.18 634.39 L167.7 634.45 L169.23 634.5 L170.75 634.55 L172.27 634.6 L173.8 634.65 L175.32 634.69 L176.85 634.73 L178.37 634.77 L179.9 634.8" fill="none" stroke="#1a1a1a" stroke-width="1.3" stroke-dasharray="6.2 4.7"/>
<path d="M41.7 602 L42.75 603.1 L43.81 604.19 L44.88 605.26 L45.96 606.32 L47.06 607.36 L48.17 608.39 L49.28 609.44 L50.4 610.47 L51.54 611.48 L52.72 612.43 L53.93 613.3 L55.2 614.12 L56.51 614.91 L57.85 615.65 L59.2 616.33 L60.57 616.97 L61.96 617.55 L63.38 618.1 L64.81 618.61 L66.25 619.1 L67.69 619.57 L69.14 620.02 L70.6 620.43 L72.07 620.82 L73.53 621.22 L74.99 621.62 L76.46 622.02 L77.92 622.41 L79.39 622.79 L80.86 623.14 L82.34 623.46 L83.83 623.76 L85.32 624.05 L86.81 624.32 L88.3 624.58 L89.8 624.83 L91.3 625.07 L92.79 625.3 L94.29 625.51 L95.8 625.72 L97.3 625.91 L98.8 626.1 L100.31 626.28 L101.82 626.46 L103.32 626.63 L104.83 626.79 L106.34 626.95 L107.85 627.11 L109.35 627.25 L110.86 627.39 L112.37 627.52 L113.88 627.64 L115.39 627.77 L116.91 627.89 L118.42 628.01 L119.93 628.13 L121.44 628.24 L122.95 628.35 L124.46 628.47 L125.98 628.57 L127.49 628.68 L129 628.78 L130.52 628.88 L132.03 628.98 L133.54 629.07 L135.06 629.16 L136.57 629.24 L138.08 629.32 L139.6 629.4 L141.11 629.47 L142.62 629.54 L144.14 629.61 L145.65 629.68 L147.17 629.74 L148.68 629.81 L150.19 629.88 L151.71 629.94 L153.22 630 L154.74 630.06 L156.25 630.12 L157.77 630.18 L159.28 630.24 L160.8 630.29 L162.31 630.35 L163.83 630.4 L165.34 630.45 L166.86 630.49 L168.37 630.54 L169.89 630.58 L171.4 630.62 L172.92 630.66 L174.43 630.69 L175.95 630.72 L177.47 630.75 L178.98 630.78 L180.5 630.8" fill="none" stroke="#1a1a1a" stroke-width="1.3"/>
<path d="M33.6 553.2 V664 H186.5" fill="none" stroke="#1c1c1c" stroke-width="1.05"/>
<path d="M33.6 658.2 h-3.9 M33.6 648.3 h-3.9 M33.6 638.4 h-3.9 M33.6 628.5 h-3.9 M33.6 618.6 h-3.9 M33.6 608.7 h-3.9 M33.6 598.8 h-3.9 M33.6 588.9 h-3.9 M33.6 579 h-3.9 M33.6 569.1 h-3.9 M33.6 559.2 h-3.9 M39.5 664 v3.9 M59.66 664 v3.9 M79.81 664 v3.9 M99.97 664 v3.9 M120.13 664 v3.9 M140.29 664 v3.9 M160.44 664 v3.9 M180.6 664 v3.9" fill="none" stroke="#1c1c1c" stroke-width="1"/>
<text class="tk" transform="translate(26 658.2) rotate(-90)">0</text>
<text class="tk" transform="translate(26 648.3) rotate(-90)">2</text>
<text class="tk" transform="translate(26 638.4) rotate(-90)">4</text>
<text class="tk" transform="translate(26 628.5) rotate(-90)">6</text>
<text class="tk" transform="translate(26 618.6) rotate(-90)">8</text>
<text class="tk" transform="translate(26 608.7) rotate(-90)">10</text>
<text class="tk" transform="translate(26 598.8) rotate(-90)">12</text>
<text class="tk" transform="translate(26 588.9) rotate(-90)">14</text>
<text class="tk" transform="translate(26 579) rotate(-90)">16</text>
<text class="tk" transform="translate(26 569.1) rotate(-90)">18</text>
<text class="tk" transform="translate(26 559.2) rotate(-90)">20</text>
<text class="tk" x="39.5" y="675.1">15</text>
<text class="tk" x="59.66" y="675.1">20</text>
<text class="tk" x="79.81" y="675.1">25</text>
<text class="tk" x="99.97" y="675.1">30</text>
<text class="tk" x="120.13" y="675.1">35</text>
<text class="tk" x="140.29" y="675.1">40</text>
<text class="tk" x="160.44" y="675.1">45</text>
<text class="tk" x="180.6" y="675.1">50</text>
<text clip-path="url(#cB1)" class="ti" style="font-size:10.25px" x="110.05" y="540.1">Collaborative Perinatal Project, USA</text>
<text class="su" x="110.05" y="549.7">1959-1965, N=34,017, mean BMI = 23.3 kg/m<tspan dy="-2.9" font-size="4.3">2</tspan></text>
<text class="yt" style="font-size:11.0px" transform="translate(9.1 607.3) rotate(-90)">Predicted risk (%)</text></g>
<clipPath id="cB2"><rect x="187.2" y="528.1" width="175.1" height="16"/></clipPath>
<g><line x1="207.7" y1="648.3" x2="359.3" y2="648.3" stroke="#eef4f6" stroke-width="1.5"/>
<line x1="207.7" y1="638.4" x2="359.3" y2="638.4" stroke="#eef4f6" stroke-width="1.5"/>
<line x1="207.7" y1="628.5" x2="359.3" y2="628.5" stroke="#eef4f6" stroke-width="1.5"/>
<line x1="207.7" y1="618.6" x2="359.3" y2="618.6" stroke="#eef4f6" stroke-width="1.5"/>
<line x1="207.7" y1="608.7" x2="359.3" y2="608.7" stroke="#eef4f6" stroke-width="1.5"/>
<line x1="207.7" y1="598.8" x2="359.3" y2="598.8" stroke="#eef4f6" stroke-width="1.5"/>
<line x1="207.7" y1="588.9" x2="359.3" y2="588.9" stroke="#eef4f6" stroke-width="1.5"/>
<line x1="207.7" y1="579" x2="359.3" y2="579" stroke="#eef4f6" stroke-width="1.5"/>
<line x1="207.7" y1="569.1" x2="359.3" y2="569.1" stroke="#eef4f6" stroke-width="1.5"/>
<line x1="251.45" y1="553.2" x2="251.45" y2="664" stroke="#161616" stroke-width="0.73"/>
<path d="M353.35 633.4 L351.83 633.54 L350.32 633.68 L348.8 633.83 L347.28 633.97 L345.76 634.11 L344.25 634.25 L342.73 634.39 L341.21 634.53 L339.69 634.67 L338.17 634.81 L336.66 634.94 L335.14 635.08 L333.62 635.22 L332.1 635.35 L330.59 635.49 L329.07 635.63 L327.55 635.76 L326.03 635.9 L324.51 636.03 L323 636.16 L321.48 636.3 L319.96 636.43 L318.44 636.56 L316.92 636.69 L315.4 636.83 L313.89 636.96 L312.37 637.09 L310.85 637.22 L309.33 637.34 L307.81 637.47 L306.29 637.6 L304.77 637.72 L303.26 637.85 L301.74 637.98 L300.22 638.1 L298.7 638.23 L297.18 638.35 L295.66 638.48 L294.14 638.6 L292.62 638.72 L291.1 638.85 L289.59 638.97 L288.07 639.1 L286.55 639.22 L285.03 639.35 L283.51 639.47 L281.99 639.6 L280.47 639.73 L278.95 639.85 L277.44 639.98 L275.92 640.11 L274.4 640.24 L272.88 640.36 L271.36 640.48 L269.84 640.61 L268.32 640.73 L266.8 640.85 L265.28 640.97 L263.76 641.09 L262.25 641.22 L260.73 641.34 L259.21 641.49 L257.69 641.65 L256.17 641.81 L254.65 641.95 L253.13 642.05 L251.61 642.1 L250.09 642.09 L248.57 642.05 L247.04 641.99 L245.52 641.91 L243.99 641.82 L242.47 641.71 L240.96 641.6 L239.44 641.44 L237.93 641.23 L236.42 640.96 L234.93 640.66 L233.45 640.32 L231.96 639.89 L230.5 639.37 L229.11 638.76 L227.84 638.04 L226.64 637.11 L225.51 636.03 L224.43 634.91 L223.41 633.79 L222.44 632.6 L221.53 631.37 L220.7 630.1 L219.92 628.79 L219.18 627.44 L218.48 626.06 L217.88 624.66 L217.38 623.24 L216.95 621.81 L216.54 620.36 L216.15 618.89 L215.8 617.41 L215.49 615.91 L215.23 614.39 L215.03 612.86 L214.9 611.3" fill="none" stroke="#1a1a1a" stroke-width="1.3" stroke-dasharray="6.2 4.7"/>
<path d="M353.35 637.1 L351.83 637.13 L350.31 637.16 L348.79 637.19 L347.26 637.23 L345.74 637.28 L344.22 637.32 L342.7 637.37 L341.18 637.42 L339.66 637.47 L338.14 637.53 L336.62 637.59 L335.1 637.65 L333.58 637.72 L332.06 637.78 L330.54 637.85 L329.03 637.92 L327.51 637.99 L325.99 638.07 L324.47 638.14 L322.95 638.22 L321.43 638.3 L319.91 638.37 L318.4 638.46 L316.88 638.54 L315.36 638.62 L313.84 638.71 L312.33 638.8 L310.81 638.9 L309.29 639.01 L307.78 639.12 L306.26 639.24 L304.75 639.37 L303.23 639.49 L301.72 639.62 L300.2 639.76 L298.69 639.89 L297.17 640.03 L295.66 640.17 L294.14 640.31 L292.63 640.45 L291.11 640.59 L289.6 640.73 L288.08 640.87 L286.57 641 L285.05 641.14 L283.54 641.27 L282.02 641.4 L280.5 641.52 L278.99 641.65 L277.47 641.78 L275.96 641.91 L274.44 642.03 L272.93 642.16 L271.41 642.28 L269.9 642.4 L268.38 642.53 L266.86 642.65 L265.35 642.77 L263.83 642.89 L262.32 643.01 L260.8 643.13 L259.28 643.28 L257.77 643.44 L256.25 643.6 L254.74 643.74 L253.22 643.85 L251.71 643.9 L250.19 643.89 L248.67 643.86 L247.14 643.8 L245.62 643.72 L244.1 643.63 L242.58 643.52 L241.07 643.41 L239.56 643.26 L238.05 643.05 L236.54 642.79 L235.05 642.49 L233.58 642.15 L232.09 641.73 L230.63 641.22 L229.24 640.62 L227.96 639.92 L226.75 639 L225.62 637.94 L224.54 636.82 L223.52 635.71 L222.55 634.53 L221.63 633.3 L220.79 632.04 L220.02 630.74 L219.33 629.38 L218.67 628 L218 626.63 L217.28 625.29 L216.52 623.98 L215.72 622.68 L214.9 621.4" fill="none" stroke="#1a1a1a" stroke-width="1.3" stroke-dasharray="6.2 4.7"/>
<path d="M214.9 616.35 L215.28 617.84 L215.7 619.32 L216.17 620.78 L216.66 622.22 L217.19 623.65 L217.74 625.07 L218.35 626.48 L219 627.87 L219.7 629.24 L220.44 630.57 L221.25 631.85 L222.14 633.11 L223.1 634.31 L224.1 635.46 L225.16 636.58 L226.28 637.68 L227.46 638.67 L228.71 639.46 L230.07 640.09 L231.52 640.64 L233.01 641.1 L234.49 641.47 L235.98 641.78 L237.49 642.06 L239.01 642.29 L240.53 642.46 L242.05 642.58 L243.58 642.69 L245.11 642.79 L246.63 642.87 L248.16 642.94 L249.69 642.98 L251.22 643 L252.75 642.97 L254.27 642.88 L255.8 642.74 L257.32 642.59 L258.84 642.42 L260.37 642.27 L261.89 642.14 L263.41 642.02 L264.94 641.9 L266.46 641.78 L267.99 641.66 L269.51 641.53 L271.03 641.41 L272.56 641.29 L274.08 641.16 L275.6 641.03 L277.13 640.91 L278.65 640.78 L280.18 640.65 L281.7 640.53 L283.22 640.4 L284.75 640.27 L286.27 640.14 L287.79 640.01 L289.32 639.88 L290.84 639.75 L292.36 639.62 L293.89 639.49 L295.41 639.36 L296.93 639.23 L298.46 639.1 L299.98 638.97 L301.5 638.84 L303.03 638.72 L304.55 638.59 L306.07 638.46 L307.6 638.34 L309.12 638.21 L310.65 638.09 L312.17 637.97 L313.69 637.85 L315.22 637.74 L316.74 637.62 L318.27 637.51 L319.79 637.39 L321.32 637.28 L322.84 637.17 L324.37 637.06 L325.89 636.95 L327.42 636.84 L328.94 636.73 L330.47 636.62 L331.99 636.51 L333.52 636.4 L335.04 636.3 L336.57 636.19 L338.09 636.09 L339.62 635.99 L341.14 635.88 L342.67 635.78 L344.19 635.68 L345.72 635.58 L347.25 635.48 L348.77 635.39 L350.3 635.29 L351.82 635.19 L353.35 635.1" fill="none" stroke="#1a1a1a" stroke-width="1.3"/>
<path d="M207.2 553.2 V664 H359.3" fill="none" stroke="#1c1c1c" stroke-width="1.05"/>
<path d="M207.2 658.2 h-3.9 M207.2 648.3 h-3.9 M207.2 638.4 h-3.9 M207.2 628.5 h-3.9 M207.2 618.6 h-3.9 M207.2 608.7 h-3.9 M207.2 598.8 h-3.9 M207.2 588.9 h-3.9 M207.2 579 h-3.9 M207.2 569.1 h-3.9 M207.2 559.2 h-3.9 M213.5 664 v3.9 M233.49 664 v3.9 M253.47 664 v3.9 M273.46 664 v3.9 M293.44 664 v3.9 M313.43 664 v3.9 M333.41 664 v3.9 M353.4 664 v3.9" fill="none" stroke="#1c1c1c" stroke-width="1"/>
<text class="tk" transform="translate(199.6 658.2) rotate(-90)">0</text>
<text class="tk" transform="translate(199.6 648.3) rotate(-90)">2</text>
<text class="tk" transform="translate(199.6 638.4) rotate(-90)">4</text>
<text class="tk" transform="translate(199.6 628.5) rotate(-90)">6</text>
<text class="tk" transform="translate(199.6 618.6) rotate(-90)">8</text>
<text class="tk" transform="translate(199.6 608.7) rotate(-90)">10</text>
<text class="tk" transform="translate(199.6 598.8) rotate(-90)">12</text>
<text class="tk" transform="translate(199.6 588.9) rotate(-90)">14</text>
<text class="tk" transform="translate(199.6 579) rotate(-90)">16</text>
<text class="tk" transform="translate(199.6 569.1) rotate(-90)">18</text>
<text class="tk" transform="translate(199.6 559.2) rotate(-90)">20</text>
<text class="tk" x="213.5" y="675.1">15</text>
<text class="tk" x="233.49" y="675.1">20</text>
<text class="tk" x="253.47" y="675.1">25</text>
<text class="tk" x="273.46" y="675.1">30</text>
<text class="tk" x="293.44" y="675.1">35</text>
<text class="tk" x="313.43" y="675.1">40</text>
<text class="tk" x="333.41" y="675.1">45</text>
<text class="tk" x="353.4" y="675.1">50</text>
<text clip-path="url(#cB2)" class="ti" style="font-size:10.25px" x="283.25" y="540.1">Danish linked data</text>
<text class="su" x="283.25" y="549.7">2004-2016, N=377,339, mean BMI = 24.6 kg/m<tspan dy="-2.9" font-size="4.3">2</tspan></text></g>
<clipPath id="cB3"><rect x="360.5" y="528.1" width="175.2" height="16"/></clipPath>
<g><line x1="381" y1="648.3" x2="532.7" y2="648.3" stroke="#eef4f6" stroke-width="1.5"/>
<line x1="381" y1="638.4" x2="532.7" y2="638.4" stroke="#eef4f6" stroke-width="1.5"/>
<line x1="381" y1="628.5" x2="532.7" y2="628.5" stroke="#eef4f6" stroke-width="1.5"/>
<line x1="381" y1="618.6" x2="532.7" y2="618.6" stroke="#eef4f6" stroke-width="1.5"/>
<line x1="381" y1="608.7" x2="532.7" y2="608.7" stroke="#eef4f6" stroke-width="1.5"/>
<line x1="381" y1="598.8" x2="532.7" y2="598.8" stroke="#eef4f6" stroke-width="1.5"/>
<line x1="381" y1="588.9" x2="532.7" y2="588.9" stroke="#eef4f6" stroke-width="1.5"/>
<line x1="381" y1="579" x2="532.7" y2="579" stroke="#eef4f6" stroke-width="1.5"/>
<line x1="381" y1="569.1" x2="532.7" y2="569.1" stroke="#eef4f6" stroke-width="1.5"/>
<line x1="425.25" y1="553.2" x2="425.25" y2="664" stroke="#161616" stroke-width="0.73"/>
<path d="M526.3 629 L524.8 629.22 L523.29 629.44 L521.79 629.66 L520.28 629.88 L518.77 630.09 L517.27 630.31 L515.76 630.52 L514.26 630.73 L512.75 630.94 L511.24 631.15 L509.74 631.36 L508.23 631.57 L506.72 631.77 L505.22 631.97 L503.71 632.18 L502.2 632.38 L500.7 632.58 L499.19 632.77 L497.68 632.97 L496.17 633.16 L494.66 633.35 L493.16 633.55 L491.65 633.73 L490.14 633.92 L488.63 634.11 L487.12 634.29 L485.61 634.48 L484.1 634.66 L482.59 634.84 L481.08 635.02 L479.57 635.2 L478.06 635.38 L476.55 635.55 L475.04 635.73 L473.53 635.9 L472.02 636.07 L470.51 636.25 L469 636.41 L467.48 636.58 L465.97 636.75 L464.46 636.91 L462.95 637.07 L461.44 637.24 L459.92 637.39 L458.41 637.55 L456.9 637.71 L455.39 637.86 L453.87 638.01 L452.36 638.15 L450.84 638.29 L449.33 638.42 L447.81 638.56 L446.3 638.71 L444.79 638.87 L443.28 639.04 L441.77 639.22 L440.26 639.41 L438.75 639.61 L437.24 639.81 L435.74 640 L434.23 640.2 L432.72 640.39 L431.21 640.58 L429.7 640.78 L428.19 640.97 L426.69 641.16 L425.18 641.34 L423.67 641.54 L422.16 641.73 L420.64 641.85 L419.13 641.93 L417.6 641.99 L416.08 642.05 L414.56 642.08 L413.04 642.1 L411.53 642.05 L410.01 641.87 L408.5 641.61 L407.01 641.3 L405.54 640.97 L404.08 640.53 L402.63 639.98 L401.24 639.36 L399.9 638.68 L398.59 637.87 L397.35 636.95 L396.25 635.95 L395.23 634.82 L394.3 633.57 L393.5 632.27 L392.84 630.94 L392.23 629.55 L391.69 628.11 L391.2 626.65 L390.78 625.17 L390.44 623.69 L390.15 622.22 L389.86 620.74 L389.59 619.25 L389.32 617.76 L389.08 616.26 L388.86 614.76 L388.67 613.24 L388.52 611.72 L388.4 610.19 L388.33 608.65 L388.3 607.1" fill="none" stroke="#1a1a1a" stroke-width="1.3" stroke-dasharray="6.2 4.7"/>
<path d="M526.3 634.2 L524.78 634.25 L523.26 634.31 L521.75 634.36 L520.23 634.42 L518.71 634.49 L517.2 634.56 L515.68 634.63 L514.16 634.7 L512.65 634.78 L511.13 634.86 L509.62 634.94 L508.1 635.03 L506.58 635.11 L505.07 635.2 L503.55 635.3 L502.04 635.39 L500.53 635.49 L499.01 635.59 L497.5 635.69 L495.98 635.79 L494.47 635.89 L492.96 636 L491.44 636.1 L489.93 636.21 L488.42 636.32 L486.91 636.44 L485.4 636.56 L483.88 636.69 L482.37 636.82 L480.86 636.96 L479.35 637.11 L477.84 637.26 L476.33 637.42 L474.82 637.58 L473.31 637.74 L471.8 637.9 L470.3 638.07 L468.79 638.23 L467.28 638.4 L465.77 638.57 L464.26 638.73 L462.75 638.9 L461.24 639.06 L459.73 639.22 L458.22 639.38 L456.71 639.53 L455.2 639.68 L453.69 639.82 L452.18 639.96 L450.67 640.1 L449.15 640.23 L447.64 640.37 L446.13 640.52 L444.63 640.68 L443.12 640.86 L441.61 641.04 L440.11 641.23 L438.6 641.43 L437.1 641.63 L435.59 641.82 L434.09 642.01 L432.58 642.21 L431.07 642.4 L429.57 642.59 L428.06 642.78 L426.56 642.97 L425.05 643.16 L423.54 643.36 L422.04 643.54 L420.53 643.66 L419.01 643.73 L417.49 643.8 L415.97 643.85 L414.45 643.89 L412.94 643.9 L411.43 643.84 L409.91 643.66 L408.41 643.39 L406.92 643.08 L405.45 642.75 L404 642.3 L402.56 641.75 L401.17 641.13 L399.83 640.45 L398.53 639.63 L397.29 638.71 L396.2 637.7 L395.2 636.57 L394.28 635.32 L393.48 634.02 L392.81 632.69 L392.25 631.29 L391.75 629.85 L391.27 628.39 L390.77 626.95 L390.21 625.54 L389.6 624.15 L388.96 622.77 L388.3 621.4" fill="none" stroke="#1a1a1a" stroke-width="1.3" stroke-dasharray="6.2 4.7"/>
<path d="M388.3 616.3 L388.61 617.8 L388.94 619.3 L389.3 620.78 L389.68 622.26 L390.09 623.73 L390.52 625.2 L390.96 626.67 L391.42 628.15 L391.92 629.61 L392.48 631.03 L393.1 632.4 L393.83 633.72 L394.69 635.01 L395.67 636.22 L396.71 637.3 L397.88 638.27 L399.17 639.15 L400.5 639.9 L401.87 640.55 L403.29 641.15 L404.76 641.65 L406.23 642.03 L407.71 642.35 L409.22 642.64 L410.75 642.87 L412.27 642.99 L413.79 642.99 L415.32 642.97 L416.85 642.92 L418.38 642.86 L419.91 642.79 L421.43 642.7 L422.95 642.53 L424.47 642.33 L425.98 642.14 L427.5 641.96 L429.02 641.76 L430.53 641.57 L432.05 641.37 L433.56 641.18 L435.08 640.99 L436.59 640.79 L438.11 640.59 L439.63 640.4 L441.14 640.2 L442.66 640.01 L444.17 639.84 L445.69 639.67 L447.21 639.52 L448.73 639.37 L450.26 639.24 L451.78 639.1 L453.3 638.96 L454.82 638.82 L456.34 638.67 L457.86 638.51 L459.38 638.35 L460.9 638.19 L462.42 638.03 L463.94 637.87 L465.46 637.7 L466.98 637.53 L468.5 637.37 L470.02 637.2 L471.54 637.03 L473.05 636.86 L474.57 636.69 L476.09 636.52 L477.61 636.36 L479.13 636.19 L480.65 636.03 L482.17 635.87 L483.69 635.71 L485.21 635.55 L486.73 635.39 L488.25 635.24 L489.77 635.1 L491.29 634.95 L492.81 634.8 L494.33 634.66 L495.85 634.51 L497.38 634.37 L498.9 634.23 L500.42 634.09 L501.94 633.95 L503.46 633.81 L504.98 633.67 L506.51 633.53 L508.03 633.4 L509.55 633.26 L511.07 633.13 L512.59 632.99 L514.12 632.86 L515.64 632.73 L517.16 632.6 L518.68 632.47 L520.21 632.35 L521.73 632.22 L523.25 632.1 L524.78 631.97 L526.3 631.85" fill="none" stroke="#1a1a1a" stroke-width="1.3"/>
<path d="M380.5 553.2 V664 H532.7" fill="none" stroke="#1c1c1c" stroke-width="1.05"/>
<path d="M380.5 658.2 h-3.9 M380.5 648.3 h-3.9 M380.5 638.4 h-3.9 M380.5 628.5 h-3.9 M380.5 618.6 h-3.9 M380.5 608.7 h-3.9 M380.5 598.8 h-3.9 M380.5 588.9 h-3.9 M380.5 579 h-3.9 M380.5 569.1 h-3.9 M380.5 559.2 h-3.9 M386.5 664 v3.9 M406.51 664 v3.9 M426.53 664 v3.9 M446.54 664 v3.9 M466.56 664 v3.9 M486.57 664 v3.9 M506.59 664 v3.9 M526.6 664 v3.9" fill="none" stroke="#1c1c1c" stroke-width="1"/>
<text class="tk" transform="translate(372.9 658.2) rotate(-90)">0</text>
<text class="tk" transform="translate(372.9 648.3) rotate(-90)">2</text>
<text class="tk" transform="translate(372.9 638.4) rotate(-90)">4</text>
<text class="tk" transform="translate(372.9 628.5) rotate(-90)">6</text>
<text class="tk" transform="translate(372.9 618.6) rotate(-90)">8</text>
<text class="tk" transform="translate(372.9 608.7) rotate(-90)">10</text>
<text class="tk" transform="translate(372.9 598.8) rotate(-90)">12</text>
<text class="tk" transform="translate(372.9 588.9) rotate(-90)">14</text>
<text class="tk" transform="translate(372.9 579) rotate(-90)">16</text>
<text class="tk" transform="translate(372.9 569.1) rotate(-90)">18</text>
<text class="tk" transform="translate(372.9 559.2) rotate(-90)">20</text>
<text class="tk" x="386.5" y="675.1">15</text>
<text class="tk" x="406.51" y="675.1">20</text>
<text class="tk" x="426.53" y="675.1">25</text>
<text class="tk" x="446.54" y="675.1">30</text>
<text class="tk" x="466.56" y="675.1">35</text>
<text class="tk" x="486.57" y="675.1">40</text>
<text class="tk" x="506.59" y="675.1">45</text>
<text class="tk" x="526.6" y="675.1">50</text>
<text clip-path="url(#cB3)" class="ti" style="font-size:10.25px" x="456.6" y="540.1">Norwegian birth registry</text>
<text class="su" x="456.6" y="549.7">2008-2021, N=270,371, mean BMI = 24.7 kg/m<tspan dy="-2.9" font-size="4.3">2</tspan></text></g>
<clipPath id="cB4"><rect x="533.7" y="528.1" width="174.8" height="16"/></clipPath>
<g><line x1="554.2" y1="648.3" x2="705.5" y2="648.3" stroke="#eef4f6" stroke-width="1.5"/>
<line x1="554.2" y1="638.4" x2="705.5" y2="638.4" stroke="#eef4f6" stroke-width="1.5"/>
<line x1="554.2" y1="628.5" x2="705.5" y2="628.5" stroke="#eef4f6" stroke-width="1.5"/>
<line x1="554.2" y1="618.6" x2="705.5" y2="618.6" stroke="#eef4f6" stroke-width="1.5"/>
<line x1="554.2" y1="608.7" x2="705.5" y2="608.7" stroke="#eef4f6" stroke-width="1.5"/>
<line x1="554.2" y1="598.8" x2="705.5" y2="598.8" stroke="#eef4f6" stroke-width="1.5"/>
<line x1="554.2" y1="588.9" x2="705.5" y2="588.9" stroke="#eef4f6" stroke-width="1.5"/>
<line x1="554.2" y1="579" x2="705.5" y2="579" stroke="#eef4f6" stroke-width="1.5"/>
<line x1="554.2" y1="569.1" x2="705.5" y2="569.1" stroke="#eef4f6" stroke-width="1.5"/>
<line x1="605.5" y1="553.2" x2="605.5" y2="664" stroke="#161616" stroke-width="0.73"/>
<path d="M561.7 580.2 L562.05 581.69 L562.4 583.17 L562.75 584.66 L563.09 586.15 L563.43 587.63 L563.75 589.13 L564.06 590.62 L564.36 592.12 L564.67 593.62 L565 595.11 L565.34 596.6 L565.73 598.07 L566.14 599.54 L566.59 601 L567.06 602.46 L567.56 603.9 L568.08 605.34 L568.63 606.77 L569.19 608.18 L569.78 609.59 L570.4 611.02 L571.05 612.43 L571.75 613.8 L572.49 615.13 L573.29 616.39 L574.16 617.59 L575.15 618.77 L576.23 619.9 L577.38 620.96 L578.57 621.92 L579.79 622.77 L581.08 623.59 L582.45 624.35 L583.85 625.02 L585.28 625.55 L586.72 625.94 L588.2 626.29 L589.71 626.6 L591.23 626.85 L592.76 627.03 L594.28 627.13 L595.79 627.22 L597.32 627.29 L598.84 627.36 L600.37 627.41 L601.9 627.46 L603.43 627.49 L604.96 627.5 L606.49 627.49 L608.01 627.47 L609.54 627.42 L611.06 627.36 L612.59 627.28 L614.11 627.21 L615.64 627.13 L617.16 627.05 L618.69 626.99 L620.21 626.93 L621.74 626.87 L623.26 626.81 L624.79 626.75 L626.32 626.68 L627.84 626.61 L629.36 626.53 L630.89 626.44 L632.41 626.35 L633.93 626.25 L635.46 626.15 L636.98 626.04 L638.5 625.93 L640.02 625.81 L641.54 625.69 L643.07 625.57 L644.59 625.45 L646.11 625.32 L647.63 625.19 L649.15 625.06 L650.67 624.93 L652.2 624.8 L653.72 624.67 L655.24 624.54 L656.76 624.41 L658.28 624.28 L659.8 624.16 L661.32 624.03 L662.85 623.91 L664.37 623.78 L665.89 623.66 L667.41 623.53 L668.93 623.41 L670.45 623.28 L671.97 623.16 L673.49 623.03 L675.02 622.9 L676.54 622.78 L678.06 622.65 L679.58 622.52 L681.1 622.39 L682.62 622.26 L684.14 622.13 L685.66 622 L687.18 621.87 L688.71 621.74 L690.23 621.6 L691.75 621.47 L693.27 621.34 L694.79 621.2 L696.31 621.07 L697.83 620.94 L699.35 620.8" fill="none" stroke="#1a1a1a" stroke-width="1.3" stroke-dasharray="6.2 4.7"/>
<path d="M561.7 609.9 L562.56 611.15 L563.42 612.4 L564.28 613.65 L565.13 614.91 L565.98 616.17 L566.79 617.46 L567.6 618.76 L568.42 620.04 L569.29 621.28 L570.22 622.44 L571.24 623.57 L572.32 624.67 L573.45 625.72 L574.64 626.67 L575.87 627.5 L577.16 628.25 L578.52 628.95 L579.93 629.58 L581.36 630.13 L582.8 630.59 L584.25 631 L585.72 631.38 L587.21 631.71 L588.72 631.99 L590.22 632.19 L591.72 632.35 L593.23 632.49 L594.74 632.62 L596.26 632.7 L597.78 632.75 L599.3 632.75 L600.81 632.75 L602.33 632.75 L603.85 632.75 L605.36 632.75 L606.88 632.74 L608.4 632.7 L609.91 632.66 L611.43 632.6 L612.95 632.53 L614.46 632.48 L615.98 632.43 L617.5 632.4 L619.01 632.4 L620.53 632.4 L622.05 632.4 L623.56 632.4 L625.08 632.4 L626.6 632.4 L628.11 632.4 L629.63 632.39 L631.15 632.37 L632.66 632.33 L634.18 632.28 L635.69 632.23 L637.21 632.16 L638.72 632.08 L640.24 632 L641.75 631.91 L643.27 631.81 L644.78 631.71 L646.29 631.61 L647.81 631.51 L649.32 631.4 L650.84 631.3 L652.35 631.2 L653.87 631.1 L655.38 631.01 L656.9 630.93 L658.41 630.84 L659.93 630.77 L661.44 630.71 L662.96 630.65 L664.47 630.6 L665.99 630.54 L667.51 630.49 L669.02 630.44 L670.54 630.38 L672.05 630.33 L673.57 630.28 L675.09 630.23 L676.6 630.18 L678.12 630.13 L679.63 630.09 L681.15 630.04 L682.67 630 L684.18 629.95 L685.7 629.91 L687.22 629.87 L688.73 629.83 L690.25 629.79 L691.77 629.76 L693.28 629.72 L694.8 629.69 L696.32 629.66 L697.83 629.63 L699.35 629.6" fill="none" stroke="#1a1a1a" stroke-width="1.3" stroke-dasharray="6.2 4.7"/>
<path d="M561.7 597.6 L562.14 599.06 L562.59 600.52 L563.07 601.97 L563.56 603.41 L564.07 604.85 L564.6 606.28 L565.15 607.7 L565.71 609.12 L566.3 610.54 L566.91 611.94 L567.56 613.31 L568.24 614.67 L568.96 616.03 L569.72 617.38 L570.52 618.7 L571.38 619.96 L572.29 621.13 L573.3 622.25 L574.41 623.33 L575.59 624.34 L576.83 625.26 L578.1 626.06 L579.42 626.78 L580.81 627.46 L582.25 628.06 L583.7 628.55 L585.16 628.9 L586.65 629.19 L588.16 629.44 L589.68 629.66 L591.21 629.81 L592.73 629.91 L594.25 629.97 L595.77 630.02 L597.3 630.07 L598.82 630.11 L600.35 630.15 L601.87 630.17 L603.4 630.19 L604.93 630.2 L606.45 630.2 L607.98 630.17 L609.5 630.13 L611.02 630.08 L612.55 630.02 L614.07 629.95 L615.6 629.89 L617.12 629.84 L618.64 629.79 L620.17 629.76 L621.69 629.73 L623.22 629.7 L624.74 629.68 L626.27 629.64 L627.79 629.61 L629.31 629.56 L630.84 629.5 L632.36 629.44 L633.88 629.37 L635.41 629.29 L636.93 629.21 L638.45 629.12 L639.97 629.03 L641.49 628.93 L643.02 628.83 L644.54 628.73 L646.06 628.63 L647.58 628.52 L649.1 628.42 L650.62 628.31 L652.15 628.2 L653.67 628.1 L655.19 628 L656.71 627.9 L658.23 627.8 L659.76 627.71 L661.28 627.62 L662.8 627.54 L664.32 627.46 L665.85 627.38 L667.37 627.29 L668.89 627.21 L670.41 627.13 L671.94 627.05 L673.46 626.97 L674.98 626.89 L676.5 626.81 L678.03 626.74 L679.55 626.66 L681.07 626.58 L682.6 626.5 L684.12 626.43 L685.64 626.35 L687.16 626.28 L688.69 626.2 L690.21 626.13 L691.73 626.06 L693.26 625.98 L694.78 625.91 L696.3 625.84 L697.83 625.77 L699.35 625.7" fill="none" stroke="#1a1a1a" stroke-width="1.3"/>
<path d="M553.7 553.2 V664 H705.5" fill="none" stroke="#1c1c1c" stroke-width="1.05"/>
<path d="M553.7 658.2 h-3.9 M553.7 648.3 h-3.9 M553.7 638.4 h-3.9 M553.7 628.5 h-3.9 M553.7 618.6 h-3.9 M553.7 608.7 h-3.9 M553.7 598.8 h-3.9 M553.7 588.9 h-3.9 M553.7 579 h-3.9 M553.7 569.1 h-3.9 M553.7 559.2 h-3.9 M559.6 664 v3.9 M579.57 664 v3.9 M599.54 664 v3.9 M619.51 664 v3.9 M639.49 664 v3.9 M659.46 664 v3.9 M679.43 664 v3.9 M699.4 664 v3.9" fill="none" stroke="#1c1c1c" stroke-width="1"/>
<text class="tk" transform="translate(546.1 658.2) rotate(-90)">0</text>
<text class="tk" transform="translate(546.1 648.3) rotate(-90)">2</text>
<text class="tk" transform="translate(546.1 638.4) rotate(-90)">4</text>
<text class="tk" transform="translate(546.1 628.5) rotate(-90)">6</text>
<text class="tk" transform="translate(546.1 618.6) rotate(-90)">8</text>
<text class="tk" transform="translate(546.1 608.7) rotate(-90)">10</text>
<text class="tk" transform="translate(546.1 598.8) rotate(-90)">12</text>
<text class="tk" transform="translate(546.1 588.9) rotate(-90)">14</text>
<text class="tk" transform="translate(546.1 579) rotate(-90)">16</text>
<text class="tk" transform="translate(546.1 569.1) rotate(-90)">18</text>
<text class="tk" transform="translate(546.1 559.2) rotate(-90)">20</text>
<text class="tk" x="559.6" y="675.1">15</text>
<text class="tk" x="579.57" y="675.1">20</text>
<text class="tk" x="599.54" y="675.1">25</text>
<text class="tk" x="619.51" y="675.1">30</text>
<text class="tk" x="639.49" y="675.1">35</text>
<text class="tk" x="659.46" y="675.1">40</text>
<text class="tk" x="679.43" y="675.1">45</text>
<text class="tk" x="699.4" y="675.1">50</text>
<text clip-path="url(#cB4)" class="ti" style="font-size:10.25px" x="629.6" y="540.1">CPRD, UK</text>
<text class="su" x="629.6" y="549.7">1997-2019, N=60,771, mean BMI = 26.5 kg/m<tspan dy="-2.9" font-size="4.3">2</tspan></text></g>
<clipPath id="cB5"><rect x="14.4" y="682.5" width="175.1" height="16"/></clipPath>
<g><line x1="34.9" y1="802.56" x2="186.5" y2="802.56" stroke="#eef4f6" stroke-width="1.5"/>
<line x1="34.9" y1="792.66" x2="186.5" y2="792.66" stroke="#eef4f6" stroke-width="1.5"/>
<line x1="34.9" y1="782.76" x2="186.5" y2="782.76" stroke="#eef4f6" stroke-width="1.5"/>
<line x1="34.9" y1="772.87" x2="186.5" y2="772.87" stroke="#eef4f6" stroke-width="1.5"/>
<line x1="34.9" y1="762.98" x2="186.5" y2="762.98" stroke="#eef4f6" stroke-width="1.5"/>
<line x1="34.9" y1="753.08" x2="186.5" y2="753.08" stroke="#eef4f6" stroke-width="1.5"/>
<line x1="34.9" y1="743.19" x2="186.5" y2="743.19" stroke="#eef4f6" stroke-width="1.5"/>
<line x1="34.9" y1="733.29" x2="186.5" y2="733.29" stroke="#eef4f6" stroke-width="1.5"/>
<line x1="34.9" y1="723.39" x2="186.5" y2="723.39" stroke="#eef4f6" stroke-width="1.5"/>
<line x1="34.9" y1="713.5" x2="186.5" y2="713.5" stroke="#eef4f6" stroke-width="1.5"/>
<line x1="88.5" y1="707.8" x2="88.5" y2="818.3" stroke="#161616" stroke-width="0.73"/>
<path d="M42 723.8 L42.2 725.31 L42.4 726.82 L42.61 728.33 L42.81 729.84 L43.02 731.35 L43.23 732.86 L43.44 734.37 L43.65 735.88 L43.85 737.4 L44.06 738.91 L44.27 740.42 L44.49 741.93 L44.71 743.43 L44.94 744.94 L45.19 746.44 L45.43 747.95 L45.68 749.46 L45.95 750.96 L46.22 752.46 L46.5 753.96 L46.81 755.46 L47.13 756.94 L47.47 758.42 L47.84 759.9 L48.24 761.38 L48.66 762.85 L49.1 764.32 L49.58 765.77 L50.08 767.21 L50.6 768.63 L51.15 770.05 L51.74 771.47 L52.38 772.88 L53.06 774.27 L53.78 775.63 L54.56 776.92 L55.38 778.16 L56.29 779.38 L57.29 780.59 L58.37 781.75 L59.51 782.81 L60.7 783.72 L61.93 784.46 L63.27 785.13 L64.69 785.74 L66.17 786.28 L67.66 786.74 L69.15 787.09 L70.62 787.38 L72.12 787.67 L73.64 787.92 L75.16 788.12 L76.69 788.25 L78.21 788.3 L79.73 788.3 L81.25 788.3 L82.78 788.3 L84.31 788.3 L85.83 788.3 L87.36 788.3 L88.88 788.3 L90.41 788.27 L91.93 788.21 L93.45 788.13 L94.98 788.03 L96.5 787.93 L98.02 787.83 L99.54 787.72 L101.06 787.59 L102.58 787.45 L104.09 787.3 L105.61 787.14 L107.13 786.99 L108.64 786.84 L110.16 786.68 L111.68 786.52 L113.19 786.36 L114.71 786.2 L116.22 786.04 L117.74 785.87 L119.26 785.7 L120.77 785.54 L122.29 785.37 L123.8 785.19 L125.32 785.02 L126.83 784.85 L128.35 784.68 L129.86 784.51 L131.38 784.34 L132.89 784.17 L134.41 784 L135.92 783.83 L137.44 783.66 L138.95 783.49 L140.47 783.33 L141.98 783.17 L143.5 783.01 L145.02 782.85 L146.53 782.69 L148.05 782.53 L149.56 782.37 L151.08 782.21 L152.6 782.06 L154.11 781.9 L155.63 781.74 L157.15 781.59 L158.66 781.43 L160.18 781.28 L161.7 781.12 L163.21 780.97 L164.73 780.81 L166.25 780.66 L167.76 780.51 L169.28 780.35 L170.8 780.2 L172.31 780.05 L173.83 779.9 L175.35 779.75 L176.87 779.6 L178.38 779.45 L179.9 779.3" fill="none" stroke="#1a1a1a" stroke-width="1.3" stroke-dasharray="6.2 4.7"/>
<path d="M42 766.1 L43.5 766.74 L44.75 767.56 L45.64 768.61 L46.34 769.95 L46.96 771.43 L47.6 772.9 L48.31 774.26 L49.04 775.61 L49.79 776.96 L50.56 778.29 L51.37 779.57 L52.24 780.82 L53.16 782.06 L54.13 783.28 L55.15 784.44 L56.23 785.51 L57.37 786.46 L58.6 787.37 L59.91 788.23 L61.26 789 L62.65 789.67 L64.05 790.21 L65.49 790.69 L66.96 791.13 L68.47 791.51 L69.99 791.81 L71.5 792.01 L73.01 792.16 L74.53 792.29 L76.07 792.4 L77.6 792.47 L79.13 792.5 L80.66 792.5 L82.19 792.5 L83.72 792.5 L85.25 792.5 L86.78 792.5 L88.31 792.5 L89.84 792.49 L91.37 792.48 L92.9 792.45 L94.43 792.42 L95.96 792.37 L97.49 792.33 L99.02 792.28 L100.54 792.2 L102.07 792.09 L103.59 791.97 L105.12 791.83 L106.64 791.7 L108.17 791.59 L109.7 791.48 L111.22 791.37 L112.75 791.26 L114.27 791.15 L115.8 791.04 L117.33 790.93 L118.85 790.82 L120.38 790.71 L121.9 790.6 L123.43 790.49 L124.96 790.38 L126.48 790.27 L128.01 790.16 L129.53 790.06 L131.06 789.95 L132.59 789.84 L134.11 789.73 L135.64 789.62 L137.16 789.52 L138.69 789.41 L140.22 789.3 L141.74 789.2 L143.27 789.09 L144.79 788.98 L146.32 788.88 L147.85 788.77 L149.37 788.67 L150.9 788.56 L152.43 788.46 L153.95 788.35 L155.48 788.25 L157 788.15 L158.53 788.04 L160.06 787.94 L161.58 787.83 L163.11 787.73 L164.64 787.63 L166.16 787.52 L167.69 787.42 L169.22 787.32 L170.74 787.21 L172.27 787.11 L173.79 787.01 L175.32 786.91 L176.85 786.8 L178.37 786.7 L179.9 786.6" fill="none" stroke="#1a1a1a" stroke-width="1.3" stroke-dasharray="6.2 4.7"/>
<path d="M42 748.1 L42.39 749.58 L42.79 751.05 L43.19 752.52 L43.6 753.99 L44.02 755.46 L44.45 756.93 L44.88 758.4 L45.3 759.87 L45.73 761.34 L46.17 762.8 L46.62 764.26 L47.1 765.71 L47.61 767.15 L48.15 768.57 L48.72 769.98 L49.34 771.39 L49.99 772.78 L50.68 774.15 L51.4 775.49 L52.16 776.8 L52.96 778.12 L53.82 779.42 L54.74 780.68 L55.7 781.86 L56.73 782.93 L57.84 783.93 L59.05 784.88 L60.34 785.77 L61.68 786.58 L63.05 787.26 L64.42 787.82 L65.85 788.33 L67.33 788.79 L68.82 789.19 L70.33 789.52 L71.83 789.76 L73.34 789.99 L74.85 790.19 L76.38 790.35 L77.91 790.46 L79.43 790.5 L80.96 790.5 L82.48 790.5 L84.01 790.5 L85.54 790.5 L87.07 790.5 L88.6 790.5 L90.12 790.48 L91.65 790.43 L93.17 790.36 L94.7 790.27 L96.22 790.18 L97.75 790.09 L99.27 790 L100.8 789.91 L102.32 789.81 L103.84 789.71 L105.37 789.6 L106.89 789.48 L108.41 789.37 L109.94 789.25 L111.46 789.13 L112.98 789 L114.5 788.87 L116.02 788.74 L117.54 788.61 L119.06 788.47 L120.58 788.33 L122.1 788.19 L123.63 788.05 L125.15 787.9 L126.67 787.76 L128.19 787.62 L129.71 787.47 L131.23 787.32 L132.75 787.18 L134.27 787.04 L135.79 786.89 L137.31 786.75 L138.83 786.61 L140.35 786.47 L141.87 786.33 L143.39 786.2 L144.91 786.06 L146.43 785.93 L147.95 785.79 L149.48 785.66 L151 785.52 L152.52 785.39 L154.04 785.26 L155.56 785.12 L157.08 784.99 L158.6 784.85 L160.12 784.72 L161.64 784.59 L163.17 784.45 L164.69 784.32 L166.21 784.19 L167.73 784.06 L169.25 783.92 L170.77 783.79 L172.29 783.66 L173.81 783.53 L175.34 783.39 L176.86 783.26 L178.38 783.13 L179.9 783" fill="none" stroke="#1a1a1a" stroke-width="1.3"/>
<path d="M34.4 707.8 V818.3 H186.5" fill="none" stroke="#1c1c1c" stroke-width="1.05"/>
<path d="M34.4 812.45 h-3.9 M34.4 802.56 h-3.9 M34.4 792.66 h-3.9 M34.4 782.76 h-3.9 M34.4 772.87 h-3.9 M34.4 762.98 h-3.9 M34.4 753.08 h-3.9 M34.4 743.19 h-3.9 M34.4 733.29 h-3.9 M34.4 723.39 h-3.9 M34.4 713.5 h-3.9 M40 818.3 v3.9 M60.09 818.3 v3.9 M80.17 818.3 v3.9 M100.26 818.3 v3.9 M120.34 818.3 v3.9 M140.43 818.3 v3.9 M160.51 818.3 v3.9 M180.6 818.3 v3.9" fill="none" stroke="#1c1c1c" stroke-width="1"/>
<text class="tk" transform="translate(26.8 812.45) rotate(-90)">0</text>
<text class="tk" transform="translate(26.8 802.56) rotate(-90)">2</text>
<text class="tk" transform="translate(26.8 792.66) rotate(-90)">4</text>
<text class="tk" transform="translate(26.8 782.76) rotate(-90)">6</text>
<text class="tk" transform="translate(26.8 772.87) rotate(-90)">8</text>
<text class="tk" transform="translate(26.8 762.98) rotate(-90)">10</text>
<text class="tk" transform="translate(26.8 753.08) rotate(-90)">12</text>
<text class="tk" transform="translate(26.8 743.19) rotate(-90)">14</text>
<text class="tk" transform="translate(26.8 733.29) rotate(-90)">16</text>
<text class="tk" transform="translate(26.8 723.39) rotate(-90)">18</text>
<text class="tk" transform="translate(26.8 713.5) rotate(-90)">20</text>
<text class="tk" x="40" y="829.4">15</text>
<text class="tk" x="60.09" y="829.4">20</text>
<text class="tk" x="80.17" y="829.4">25</text>
<text class="tk" x="100.26" y="829.4">30</text>
<text class="tk" x="120.34" y="829.4">35</text>
<text class="tk" x="140.43" y="829.4">40</text>
<text class="tk" x="160.51" y="829.4">45</text>
<text class="tk" x="180.6" y="829.4">50</text>
<text clip-path="url(#cB5)" class="ti" style="font-size:10.25px" x="110.45" y="694.5">South Australian BEBOLD platform</text>
<text class="su" x="110.45" y="704.3">2007-2017, N=79,037, mean BMI = 27.1 kg/m<tspan dy="-2.9" font-size="4.3">2</tspan></text>
<text class="yt" style="font-size:11.0px" transform="translate(9.1 761.75) rotate(-90)">Predicted risk (%)</text>
<text class="xt" x="115.2" y="840.8">BMI (kg/m<tspan dy="-3.7" font-size="5.2">2</tspan><tspan dy="3.7">)</tspan></text></g>
<clipPath id="cB6"><rect x="188" y="682.5" width="174.3" height="16"/></clipPath>
<g><line x1="208.5" y1="802.56" x2="359.3" y2="802.56" stroke="#eef4f6" stroke-width="1.5"/>
<line x1="208.5" y1="792.66" x2="359.3" y2="792.66" stroke="#eef4f6" stroke-width="1.5"/>
<line x1="208.5" y1="782.76" x2="359.3" y2="782.76" stroke="#eef4f6" stroke-width="1.5"/>
<line x1="208.5" y1="772.87" x2="359.3" y2="772.87" stroke="#eef4f6" stroke-width="1.5"/>
<line x1="208.5" y1="762.98" x2="359.3" y2="762.98" stroke="#eef4f6" stroke-width="1.5"/>
<line x1="208.5" y1="753.08" x2="359.3" y2="753.08" stroke="#eef4f6" stroke-width="1.5"/>
<line x1="208.5" y1="743.19" x2="359.3" y2="743.19" stroke="#eef4f6" stroke-width="1.5"/>
<line x1="208.5" y1="733.29" x2="359.3" y2="733.29" stroke="#eef4f6" stroke-width="1.5"/>
<line x1="208.5" y1="723.39" x2="359.3" y2="723.39" stroke="#eef4f6" stroke-width="1.5"/>
<line x1="208.5" y1="713.5" x2="359.3" y2="713.5" stroke="#eef4f6" stroke-width="1.5"/>
<line x1="263.5" y1="707.8" x2="263.5" y2="818.3" stroke="#161616" stroke-width="0.73"/>
<path d="M215.1 751.6 L215.5 753.08 L215.93 754.55 L216.37 756.02 L216.84 757.47 L217.32 758.92 L217.83 760.36 L218.35 761.79 L218.88 763.22 L219.43 764.66 L220 766.1 L220.6 767.52 L221.23 768.93 L221.9 770.3 L222.61 771.63 L223.38 772.91 L224.25 774.18 L225.19 775.41 L226.21 776.58 L227.26 777.67 L228.37 778.7 L229.55 779.72 L230.79 780.67 L232.09 781.49 L233.42 782.14 L234.82 782.7 L236.29 783.2 L237.79 783.61 L239.3 783.92 L240.79 784.14 L242.31 784.33 L243.83 784.5 L245.36 784.62 L246.9 784.69 L248.42 784.7 L249.95 784.65 L251.48 784.58 L253 784.48 L254.53 784.37 L256.05 784.25 L257.57 784.12 L259.09 783.95 L260.61 783.75 L262.12 783.54 L263.64 783.33 L265.15 783.14 L266.67 782.95 L268.19 782.75 L269.7 782.56 L271.22 782.36 L272.73 782.16 L274.25 781.97 L275.76 781.77 L277.28 781.58 L278.8 781.39 L280.31 781.2 L281.83 781.02 L283.35 780.84 L284.87 780.67 L286.38 780.49 L287.9 780.32 L289.42 780.16 L290.94 779.99 L292.46 779.83 L293.98 779.67 L295.5 779.5 L297.02 779.35 L298.54 779.19 L300.06 779.03 L301.58 778.87 L303.1 778.71 L304.62 778.55 L306.14 778.4 L307.66 778.24 L309.18 778.08 L310.7 777.92 L312.22 777.76 L313.74 777.6 L315.26 777.44 L316.78 777.28 L318.3 777.13 L319.82 776.97 L321.34 776.82 L322.86 776.66 L324.38 776.51 L325.9 776.36 L327.42 776.21 L328.94 776.07 L330.47 775.92 L331.99 775.78 L333.51 775.64 L335.03 775.5 L336.55 775.36 L338.07 775.22 L339.6 775.08 L341.12 774.94 L342.64 774.81 L344.16 774.68 L345.69 774.54 L347.21 774.41 L348.73 774.28 L350.25 774.15 L351.78 774.03 L353.3 773.9" fill="none" stroke="#1a1a1a" stroke-width="1.7"/>
<path d="M208 707.8 V818.3 H359.3" fill="none" stroke="#1c1c1c" stroke-width="1.05"/>
<path d="M208 812.45 h-3.9 M208 802.56 h-3.9 M208 792.66 h-3.9 M208 782.76 h-3.9 M208 772.87 h-3.9 M208 762.98 h-3.9 M208 753.08 h-3.9 M208 743.19 h-3.9 M208 733.29 h-3.9 M208 723.39 h-3.9 M208 713.5 h-3.9 M213.4 818.3 v3.9 M233.4 818.3 v3.9 M253.4 818.3 v3.9 M273.4 818.3 v3.9 M293.4 818.3 v3.9 M313.4 818.3 v3.9 M333.4 818.3 v3.9 M353.4 818.3 v3.9" fill="none" stroke="#1c1c1c" stroke-width="1"/>
<text class="tk" transform="translate(200.4 812.45) rotate(-90)">0</text>
<text class="tk" transform="translate(200.4 802.56) rotate(-90)">2</text>
<text class="tk" transform="translate(200.4 792.66) rotate(-90)">4</text>
<text class="tk" transform="translate(200.4 782.76) rotate(-90)">6</text>
<text class="tk" transform="translate(200.4 772.87) rotate(-90)">8</text>
<text class="tk" transform="translate(200.4 762.98) rotate(-90)">10</text>
<text class="tk" transform="translate(200.4 753.08) rotate(-90)">12</text>
<text class="tk" transform="translate(200.4 743.19) rotate(-90)">14</text>
<text class="tk" transform="translate(200.4 733.29) rotate(-90)">16</text>
<text class="tk" transform="translate(200.4 723.39) rotate(-90)">18</text>
<text class="tk" transform="translate(200.4 713.5) rotate(-90)">20</text>
<text class="tk" x="213.4" y="829.4">15</text>
<text class="tk" x="233.4" y="829.4">20</text>
<text class="tk" x="253.4" y="829.4">25</text>
<text class="tk" x="273.4" y="829.4">30</text>
<text class="tk" x="293.4" y="829.4">35</text>
<text class="tk" x="313.4" y="829.4">40</text>
<text class="tk" x="333.4" y="829.4">45</text>
<text class="tk" x="353.4" y="829.4">50</text>
<text clip-path="url(#cB6)" class="ti" style="font-size:10.25px" x="283.65" y="694.5">NCHS vital statistics data, USA</text>
<text class="su" x="283.65" y="704.3">2014-21, N=16,642,220, mean BMI=27.5 kg/m<tspan dy="-2.9" font-size="4.3">2</tspan></text>
<text class="xt" x="285.2" y="840.8">BMI (kg/m<tspan dy="-3.7" font-size="5.2">2</tspan><tspan dy="3.7">)</tspan></text></g>
<clipPath id="cB7"><rect x="361.3" y="682.5" width="174.4" height="16"/></clipPath>
<g><line x1="381.8" y1="802.56" x2="532.7" y2="802.56" stroke="#eef4f6" stroke-width="1.5"/>
<line x1="381.8" y1="792.66" x2="532.7" y2="792.66" stroke="#eef4f6" stroke-width="1.5"/>
<line x1="381.8" y1="782.76" x2="532.7" y2="782.76" stroke="#eef4f6" stroke-width="1.5"/>
<line x1="381.8" y1="772.87" x2="532.7" y2="772.87" stroke="#eef4f6" stroke-width="1.5"/>
<line x1="381.8" y1="762.98" x2="532.7" y2="762.98" stroke="#eef4f6" stroke-width="1.5"/>
<line x1="381.8" y1="753.08" x2="532.7" y2="753.08" stroke="#eef4f6" stroke-width="1.5"/>
<line x1="381.8" y1="743.19" x2="532.7" y2="743.19" stroke="#eef4f6" stroke-width="1.5"/>
<line x1="381.8" y1="733.29" x2="532.7" y2="733.29" stroke="#eef4f6" stroke-width="1.5"/>
<line x1="381.8" y1="723.39" x2="532.7" y2="723.39" stroke="#eef4f6" stroke-width="1.5"/>
<line x1="381.8" y1="713.5" x2="532.7" y2="713.5" stroke="#eef4f6" stroke-width="1.5"/>
<line x1="435.5" y1="707.8" x2="435.5" y2="818.3" stroke="#161616" stroke-width="0.73"/>
<path d="M388.7 741.3 L388.98 742.8 L389.27 744.3 L389.57 745.79 L389.88 747.28 L390.2 748.78 L390.52 750.26 L390.86 751.75 L391.2 753.24 L391.55 754.73 L391.92 756.21 L392.31 757.68 L392.73 759.14 L393.17 760.6 L393.64 762.05 L394.13 763.5 L394.65 764.94 L395.2 766.37 L395.78 767.77 L396.38 769.16 L397.02 770.56 L397.7 771.94 L398.42 773.3 L399.18 774.63 L399.98 775.92 L400.82 777.16 L401.73 778.38 L402.72 779.59 L403.75 780.74 L404.84 781.82 L405.98 782.8 L407.16 783.71 L408.42 784.59 L409.74 785.42 L411.11 786.18 L412.5 786.84 L413.9 787.37 L415.32 787.8 L416.79 788.19 L418.29 788.54 L419.8 788.85 L421.32 789.1 L422.84 789.29 L424.35 789.45 L425.86 789.61 L427.38 789.76 L428.9 789.89 L430.43 790 L431.95 790.09 L433.48 790.16 L435 790.19 L436.53 790.2 L438.05 790.2 L439.58 790.2 L441.1 790.2 L442.63 790.2 L444.15 790.2 L445.68 790.2 L447.2 790.18 L448.72 790.15 L450.25 790.09 L451.77 790.03 L453.3 789.97 L454.82 789.91 L456.34 789.85 L457.87 789.79 L459.39 789.72 L460.91 789.66 L462.43 789.59 L463.96 789.52 L465.48 789.44 L467 789.37 L468.53 789.29 L470.05 789.21 L471.57 789.13 L473.09 789.04 L474.62 788.96 L476.14 788.87 L477.66 788.79 L479.18 788.7 L480.7 788.61 L482.23 788.52 L483.75 788.44 L485.27 788.35 L486.79 788.26 L488.32 788.17 L489.84 788.08 L491.36 788 L492.88 787.91 L494.4 787.81 L495.92 787.72 L497.45 787.63 L498.97 787.54 L500.49 787.44 L502.01 787.35 L503.53 787.25 L505.05 787.15 L506.58 787.05 L508.1 786.96 L509.62 786.86 L511.14 786.75 L512.66 786.65 L514.18 786.55 L515.7 786.45 L517.22 786.34 L518.75 786.24 L520.27 786.13 L521.79 786.02 L523.31 785.92 L524.83 785.81 L526.35 785.7" fill="none" stroke="#1a1a1a" stroke-width="1.3" stroke-dasharray="6.2 4.7"/>
<path d="M388.7 777.25 L390.17 776.58 L391.54 776.65 L392.82 777.59 L393.99 778.65 L395.04 779.73 L396.03 780.91 L397.01 782.1 L398.03 783.23 L399.13 784.3 L400.25 785.36 L401.4 786.38 L402.6 787.33 L403.84 788.17 L405.14 788.93 L406.5 789.63 L407.9 790.28 L409.33 790.86 L410.76 791.35 L412.21 791.8 L413.68 792.21 L415.17 792.59 L416.67 792.91 L418.17 793.17 L419.67 793.38 L421.18 793.56 L422.7 793.73 L424.22 793.88 L425.75 794 L427.27 794.09 L428.79 794.17 L430.31 794.25 L431.84 794.31 L433.36 794.36 L434.89 794.39 L436.41 794.4 L437.94 794.4 L439.46 794.4 L440.99 794.4 L442.51 794.4 L444.04 794.4 L445.56 794.4 L447.08 794.38 L448.61 794.34 L450.13 794.29 L451.66 794.22 L453.18 794.16 L454.7 794.11 L456.23 794.07 L457.75 794.02 L459.28 793.98 L460.8 793.94 L462.32 793.9 L463.85 793.86 L465.37 793.82 L466.9 793.78 L468.42 793.74 L469.95 793.71 L471.47 793.67 L472.99 793.63 L474.52 793.6 L476.04 793.56 L477.57 793.53 L479.09 793.49 L480.62 793.46 L482.14 793.43 L483.66 793.4 L485.19 793.37 L486.71 793.34 L488.24 793.31 L489.76 793.28 L491.29 793.25 L492.81 793.23 L494.33 793.2 L495.86 793.17 L497.38 793.15 L498.91 793.12 L500.43 793.1 L501.96 793.07 L503.48 793.05 L505.01 793.02 L506.53 793 L508.06 792.98 L509.58 792.96 L511.1 792.93 L512.63 792.91 L514.15 792.89 L515.68 792.87 L517.2 792.85 L518.73 792.83 L520.25 792.82 L521.78 792.8 L523.3 792.78 L524.83 792.77 L526.35 792.75" fill="none" stroke="#1a1a1a" stroke-width="1.3" stroke-dasharray="6.2 4.7"/>
<path d="M388.7 762.6 L389.46 763.93 L390.22 765.25 L390.98 766.58 L391.74 767.9 L392.5 769.23 L393.25 770.56 L393.99 771.91 L394.72 773.26 L395.47 774.6 L396.24 775.91 L397.06 777.19 L397.92 778.46 L398.8 779.73 L399.73 780.99 L400.69 782.19 L401.7 783.33 L402.77 784.36 L403.92 785.34 L405.15 786.29 L406.44 787.17 L407.77 787.96 L409.13 788.64 L410.51 789.21 L411.95 789.73 L413.42 790.2 L414.92 790.61 L416.42 790.94 L417.91 791.2 L419.42 791.42 L420.94 791.63 L422.46 791.8 L423.99 791.95 L425.52 792.06 L427.04 792.14 L428.57 792.21 L430.1 792.27 L431.62 792.33 L433.15 792.37 L434.68 792.39 L436.21 792.4 L437.74 792.4 L439.27 792.4 L440.8 792.4 L442.33 792.4 L443.86 792.4 L445.38 792.4 L446.91 792.39 L448.44 792.37 L449.97 792.34 L451.5 792.3 L453.03 792.25 L454.56 792.21 L456.08 792.17 L457.61 792.12 L459.14 792.07 L460.67 792.01 L462.19 791.95 L463.72 791.89 L465.25 791.82 L466.78 791.75 L468.3 791.68 L469.83 791.6 L471.36 791.53 L472.88 791.45 L474.41 791.37 L475.94 791.29 L477.46 791.22 L478.99 791.14 L480.52 791.07 L482.05 790.99 L483.57 790.92 L485.1 790.85 L486.63 790.78 L488.15 790.72 L489.68 790.66 L491.21 790.6 L492.74 790.54 L494.26 790.49 L495.79 790.43 L497.32 790.37 L498.85 790.31 L500.38 790.26 L501.9 790.2 L503.43 790.15 L504.96 790.09 L506.49 790.04 L508.01 789.99 L509.54 789.93 L511.07 789.88 L512.6 789.83 L514.13 789.78 L515.65 789.73 L517.18 789.68 L518.71 789.63 L520.24 789.58 L521.77 789.54 L523.29 789.49 L524.82 789.45 L526.35 789.4" fill="none" stroke="#1a1a1a" stroke-width="1.3"/>
<path d="M381.3 707.8 V818.3 H532.7" fill="none" stroke="#1c1c1c" stroke-width="1.05"/>
<path d="M381.3 812.45 h-3.9 M381.3 802.56 h-3.9 M381.3 792.66 h-3.9 M381.3 782.76 h-3.9 M381.3 772.87 h-3.9 M381.3 762.98 h-3.9 M381.3 753.08 h-3.9 M381.3 743.19 h-3.9 M381.3 733.29 h-3.9 M381.3 723.39 h-3.9 M381.3 713.5 h-3.9 M386.5 818.3 v3.9 M406.51 818.3 v3.9 M426.53 818.3 v3.9 M446.54 818.3 v3.9 M466.56 818.3 v3.9 M486.57 818.3 v3.9 M506.59 818.3 v3.9 M526.6 818.3 v3.9" fill="none" stroke="#1c1c1c" stroke-width="1"/>
<text class="tk" transform="translate(373.7 812.45) rotate(-90)">0</text>
<text class="tk" transform="translate(373.7 802.56) rotate(-90)">2</text>
<text class="tk" transform="translate(373.7 792.66) rotate(-90)">4</text>
<text class="tk" transform="translate(373.7 782.76) rotate(-90)">6</text>
<text class="tk" transform="translate(373.7 772.87) rotate(-90)">8</text>
<text class="tk" transform="translate(373.7 762.98) rotate(-90)">10</text>
<text class="tk" transform="translate(373.7 753.08) rotate(-90)">12</text>
<text class="tk" transform="translate(373.7 743.19) rotate(-90)">14</text>
<text class="tk" transform="translate(373.7 733.29) rotate(-90)">16</text>
<text class="tk" transform="translate(373.7 723.39) rotate(-90)">18</text>
<text class="tk" transform="translate(373.7 713.5) rotate(-90)">20</text>
<text class="tk" x="386.5" y="829.4">15</text>
<text class="tk" x="406.51" y="829.4">20</text>
<text class="tk" x="426.53" y="829.4">25</text>
<text class="tk" x="446.54" y="829.4">30</text>
<text class="tk" x="466.56" y="829.4">35</text>
<text class="tk" x="486.57" y="829.4">40</text>
<text class="tk" x="506.59" y="829.4">45</text>
<text class="tk" x="526.6" y="829.4">50</text>
<text clip-path="url(#cB7)" class="ti" style="font-size:10.25px" x="457" y="694.5">SAIL Databank, Wales, UK</text>
<text class="su" x="457" y="704.3">2014-2020, N=52,143, mean BMI = 27.3 kg/m<tspan dy="-2.9" font-size="4.3">2</tspan></text>
<text class="xt" x="461.05" y="840.8">BMI (kg/m<tspan dy="-3.7" font-size="5.2">2</tspan><tspan dy="3.7">)</tspan></text></g>
<clipPath id="cB8"><rect x="534.5" y="682.5" width="174" height="16"/></clipPath>
<g><line x1="555" y1="802.56" x2="705.5" y2="802.56" stroke="#eef4f6" stroke-width="1.5"/>
<line x1="555" y1="792.66" x2="705.5" y2="792.66" stroke="#eef4f6" stroke-width="1.5"/>
<line x1="555" y1="782.76" x2="705.5" y2="782.76" stroke="#eef4f6" stroke-width="1.5"/>
<line x1="555" y1="772.87" x2="705.5" y2="772.87" stroke="#eef4f6" stroke-width="1.5"/>
<line x1="555" y1="762.98" x2="705.5" y2="762.98" stroke="#eef4f6" stroke-width="1.5"/>
<line x1="555" y1="753.08" x2="705.5" y2="753.08" stroke="#eef4f6" stroke-width="1.5"/>
<line x1="555" y1="743.19" x2="705.5" y2="743.19" stroke="#eef4f6" stroke-width="1.5"/>
<line x1="555" y1="733.29" x2="705.5" y2="733.29" stroke="#eef4f6" stroke-width="1.5"/>
<line x1="555" y1="723.39" x2="705.5" y2="723.39" stroke="#eef4f6" stroke-width="1.5"/>
<line x1="555" y1="713.5" x2="705.5" y2="713.5" stroke="#eef4f6" stroke-width="1.5"/>
<line x1="618.55" y1="707.8" x2="618.55" y2="818.3" stroke="#161616" stroke-width="0.73"/>
<path d="M579.9 732.4 L580.23 733.88 L580.57 735.37 L580.91 736.85 L581.26 738.33 L581.61 739.81 L581.97 741.28 L582.32 742.76 L582.67 744.24 L583.03 745.72 L583.39 747.2 L583.76 748.68 L584.15 750.14 L584.56 751.61 L584.98 753.06 L585.42 754.52 L585.88 755.98 L586.36 757.43 L586.86 758.88 L587.38 760.31 L587.93 761.72 L588.52 763.11 L589.14 764.48 L589.81 765.85 L590.53 767.21 L591.29 768.55 L592.09 769.86 L592.93 771.14 L593.8 772.36 L594.71 773.54 L595.68 774.7 L596.73 775.84 L597.82 776.94 L598.96 777.98 L600.13 778.94 L601.32 779.83 L602.57 780.68 L603.86 781.49 L605.2 782.26 L606.57 782.98 L607.96 783.63 L609.36 784.2 L610.77 784.7 L612.21 785.16 L613.68 785.59 L615.16 785.97 L616.66 786.31 L618.15 786.61 L619.65 786.85 L621.15 787.08 L622.66 787.28 L624.17 787.46 L625.68 787.62 L627.2 787.75 L628.71 787.86 L630.23 787.96 L631.75 788.07 L633.27 788.16 L634.79 788.23 L636.31 788.28 L637.83 788.3 L639.35 788.28 L640.86 788.22 L642.38 788.14 L643.9 788.05 L645.42 787.98 L646.94 787.92 L648.46 787.87 L649.98 787.81 L651.5 787.73 L653.01 787.64 L654.52 787.49 L656.03 787.31 L657.54 787.11 L659.05 786.89 L660.55 786.68 L662.06 786.49 L663.57 786.33 L665.09 786.2 L666.6 786.08 L668.12 785.96 L669.64 785.85 L671.15 785.74 L672.67 785.62 L674.18 785.49 L675.69 785.34 L677.21 785.18 L678.72 785 L680.23 784.82 L681.73 784.63 L683.24 784.43 L684.75 784.24 L686.26 784.04 L687.76 783.84 L689.27 783.64 L690.78 783.43 L692.28 783.22 L693.79 783 L695.29 782.78 L696.79 782.56 L698.3 782.33 L699.8 782.1" fill="none" stroke="#1a1a1a" stroke-width="1.3" stroke-dasharray="6.2 4.7"/>
<path d="M575.7 772.3 L576.13 773.78 L576.59 775.24 L577.1 776.68 L577.64 778.11 L578.21 779.52 L578.81 780.91 L579.45 782.31 L580.14 783.69 L580.87 785.05 L581.65 786.36 L582.48 787.61 L583.38 788.83 L584.37 790.01 L585.42 791.15 L586.52 792.23 L587.65 793.23 L588.83 794.19 L590.06 795.12 L591.34 795.99 L592.66 796.79 L594 797.5 L595.36 798.13 L596.77 798.72 L598.22 799.26 L599.68 799.75 L601.16 800.17 L602.63 800.52 L604.12 800.83 L605.63 801.1 L607.14 801.34 L608.66 801.55 L610.18 801.73 L611.69 801.88 L613.22 802.01 L614.74 802.12 L616.26 802.23 L617.79 802.34 L619.31 802.44 L620.84 802.55 L622.36 802.64 L623.88 802.74 L625.41 802.83 L626.93 802.93 L628.46 803.04 L629.98 803.15 L631.5 803.27 L633.02 803.39 L634.55 803.51 L636.07 803.64 L637.59 803.77 L639.11 803.91 L640.63 804.09 L642.15 804.24 L643.68 804.3 L645.2 804.3 L646.73 804.3 L648.25 804.3 L649.78 804.3 L651.31 804.3 L652.83 804.3 L654.36 804.3 L655.89 804.3 L657.42 804.3 L658.95 804.3 L660.48 804.3 L662 804.3 L663.53 804.3 L665.06 804.31 L666.58 804.33 L668.11 804.37 L669.64 804.42 L671.16 804.47 L672.69 804.54 L674.21 804.61 L675.74 804.69 L677.27 804.77 L678.79 804.85 L680.32 804.93 L681.84 805.01 L683.37 805.09 L684.89 805.16 L686.42 805.23 L687.95 805.29 L689.47 805.36 L691 805.43 L692.52 805.49 L694.05 805.56 L695.57 805.63 L697.1 805.7" fill="none" stroke="#1a1a1a" stroke-width="1.3" stroke-dasharray="6.2 4.7"/>
<path d="M575.7 744.2 L575.95 745.71 L576.22 747.21 L576.49 748.71 L576.78 750.2 L577.08 751.7 L577.4 753.19 L577.72 754.68 L578.06 756.17 L578.4 757.66 L578.76 759.14 L579.14 760.62 L579.54 762.09 L579.95 763.56 L580.39 765.01 L580.85 766.47 L581.33 767.92 L581.85 769.36 L582.4 770.79 L582.97 772.2 L583.58 773.58 L584.23 774.96 L584.93 776.34 L585.66 777.69 L586.45 779.02 L587.28 780.29 L588.15 781.5 L589.1 782.68 L590.12 783.83 L591.21 784.94 L592.34 785.99 L593.51 786.97 L594.7 787.87 L595.95 788.74 L597.25 789.57 L598.59 790.35 L599.96 791.06 L601.34 791.7 L602.74 792.24 L604.18 792.71 L605.64 793.14 L607.13 793.54 L608.62 793.9 L610.11 794.25 L611.59 794.58 L613.09 794.9 L614.58 795.2 L616.09 795.47 L617.59 795.73 L619.09 795.96 L620.6 796.17 L622.12 796.37 L623.63 796.55 L625.15 796.72 L626.66 796.88 L628.18 797.03 L629.7 797.17 L631.22 797.3 L632.74 797.43 L634.26 797.55 L635.78 797.66 L637.3 797.76 L638.82 797.85 L640.34 797.95 L641.87 798.05 L643.39 798.12 L644.91 798.15 L646.44 798.15 L647.96 798.14 L649.49 798.13 L651.01 798.11 L652.53 798.1 L654.06 798.08 L655.58 798.06 L657.11 798.04 L658.63 798.02 L660.16 798.01 L661.68 798 L663.21 798 L664.73 798 L666.26 798 L667.78 798 L669.31 798 L670.83 798 L672.36 798 L673.88 798 L675.41 798 L676.93 798 L678.45 798 L679.98 798 L681.5 798 L683.03 798 L684.55 798 L686.08 798 L687.6 798 L689.13 798 L690.65 798 L692.18 798 L693.7 798 L695.23 798 L696.75 798 L698.28 798 L699.8 798" fill="none" stroke="#1a1a1a" stroke-width="1.3"/>
<path d="M554.5 707.8 V818.3 H705.5" fill="none" stroke="#1c1c1c" stroke-width="1.05"/>
<path d="M554.5 812.45 h-3.9 M554.5 802.56 h-3.9 M554.5 792.66 h-3.9 M554.5 782.76 h-3.9 M554.5 772.87 h-3.9 M554.5 762.98 h-3.9 M554.5 753.08 h-3.9 M554.5 743.19 h-3.9 M554.5 733.29 h-3.9 M554.5 723.39 h-3.9 M554.5 713.5 h-3.9 M559.6 818.3 v3.9 M579.57 818.3 v3.9 M599.54 818.3 v3.9 M619.51 818.3 v3.9 M639.49 818.3 v3.9 M659.46 818.3 v3.9 M679.43 818.3 v3.9 M699.4 818.3 v3.9" fill="none" stroke="#1c1c1c" stroke-width="1"/>
<text class="tk" transform="translate(546.9 812.45) rotate(-90)">0</text>
<text class="tk" transform="translate(546.9 802.56) rotate(-90)">2</text>
<text class="tk" transform="translate(546.9 792.66) rotate(-90)">4</text>
<text class="tk" transform="translate(546.9 782.76) rotate(-90)">6</text>
<text class="tk" transform="translate(546.9 772.87) rotate(-90)">8</text>
<text class="tk" transform="translate(546.9 762.98) rotate(-90)">10</text>
<text class="tk" transform="translate(546.9 753.08) rotate(-90)">12</text>
<text class="tk" transform="translate(546.9 743.19) rotate(-90)">14</text>
<text class="tk" transform="translate(546.9 733.29) rotate(-90)">16</text>
<text class="tk" transform="translate(546.9 723.39) rotate(-90)">18</text>
<text class="tk" transform="translate(546.9 713.5) rotate(-90)">20</text>
<text class="tk" x="559.6" y="829.4">15</text>
<text class="tk" x="579.57" y="829.4">20</text>
<text class="tk" x="599.54" y="829.4">25</text>
<text class="tk" x="619.51" y="829.4">30</text>
<text class="tk" x="639.49" y="829.4">35</text>
<text class="tk" x="659.46" y="829.4">40</text>
<text class="tk" x="679.43" y="829.4">45</text>
<text class="tk" x="699.4" y="829.4">50</text>
<text clip-path="url(#cB8)" class="ti" style="font-size:10.25px" x="630" y="694.5">Bradford maternity data, UK</text>
<text class="su" x="630" y="704.3">2020-2021, N=2,292, mean BMI = 29.7 kg/m<tspan dy="-2.9" font-size="4.3">2</tspan></text>
<text class="xt" x="634.8" y="840.8">BMI (kg/m<tspan dy="-3.7" font-size="5.2">2</tspan><tspan dy="3.7">)</tspan></text></g>
<g><line x1="295.5" y1="963.16" x2="446.3" y2="963.16" stroke="#eef4f6" stroke-width="1.5"/>
<line x1="295.5" y1="952.42" x2="446.3" y2="952.42" stroke="#eef4f6" stroke-width="1.5"/>
<line x1="295.5" y1="941.68" x2="446.3" y2="941.68" stroke="#eef4f6" stroke-width="1.5"/>
<line x1="295.5" y1="930.94" x2="446.3" y2="930.94" stroke="#eef4f6" stroke-width="1.5"/>
<line x1="295.5" y1="920.2" x2="446.3" y2="920.2" stroke="#eef4f6" stroke-width="1.5"/>
<line x1="295.5" y1="909.46" x2="446.3" y2="909.46" stroke="#eef4f6" stroke-width="1.5"/>
<line x1="295.5" y1="898.72" x2="446.3" y2="898.72" stroke="#eef4f6" stroke-width="1.5"/>
<line x1="295.5" y1="887.98" x2="446.3" y2="887.98" stroke="#eef4f6" stroke-width="1.5"/>
<line x1="295.5" y1="877.24" x2="446.3" y2="877.24" stroke="#eef4f6" stroke-width="1.5"/>
<line x1="349.55" y1="860.9" x2="349.55" y2="979.7" stroke="#161616" stroke-width="0.73"/>
<path d="M302.7 890.1 L302.92 891.61 L303.15 893.11 L303.4 894.61 L303.65 896.11 L303.92 897.61 L304.19 899.11 L304.48 900.6 L304.77 902.09 L305.07 903.59 L305.38 905.08 L305.71 906.57 L306.05 908.05 L306.4 909.53 L306.77 911 L307.16 912.47 L307.57 913.93 L308 915.4 L308.45 916.87 L308.93 918.33 L309.44 919.77 L309.98 921.2 L310.56 922.59 L311.17 923.95 L311.85 925.3 L312.61 926.63 L313.42 927.95 L314.29 929.23 L315.21 930.46 L316.16 931.64 L317.15 932.75 L318.21 933.86 L319.34 934.94 L320.53 935.97 L321.76 936.89 L323.03 937.66 L324.34 938.29 L325.73 938.86 L327.18 939.39 L328.66 939.85 L330.16 940.25 L331.67 940.57 L333.15 940.81 L334.65 941.03 L336.17 941.23 L337.69 941.4 L339.21 941.53 L340.73 941.59 L342.25 941.6 L343.77 941.6 L345.29 941.6 L346.82 941.6 L348.34 941.6 L349.86 941.6 L351.38 941.56 L352.9 941.49 L354.42 941.38 L355.93 941.26 L357.45 941.14 L358.97 941.03 L360.49 940.93 L362.01 940.84 L363.52 940.74 L365.04 940.65 L366.56 940.55 L368.08 940.44 L369.59 940.33 L371.11 940.22 L372.63 940.1 L374.14 939.98 L375.66 939.86 L377.18 939.73 L378.69 939.6 L380.21 939.47 L381.72 939.34 L383.24 939.2 L384.75 939.07 L386.27 938.93 L387.78 938.79 L389.3 938.66 L390.81 938.52 L392.33 938.39 L393.85 938.26 L395.36 938.12 L396.88 937.99 L398.39 937.87 L399.91 937.74 L401.42 937.62 L402.94 937.5 L404.46 937.39 L405.98 937.27 L407.49 937.16 L409.01 937.05 L410.53 936.94 L412.04 936.83 L413.56 936.73 L415.08 936.62 L416.6 936.51 L418.11 936.41 L419.63 936.3 L421.15 936.2 L422.67 936.09 L424.18 935.98 L425.7 935.87 L427.22 935.76 L428.74 935.65 L430.25 935.54 L431.77 935.42 L433.29 935.31 L434.8 935.19 L436.32 935.06 L437.83 934.94 L439.35 934.8" fill="none" stroke="#1a1a1a" stroke-width="1.3" stroke-dasharray="6.2 4.7"/>
<path d="M302.7 924.9 L303.09 926.38 L303.51 927.85 L303.95 929.31 L304.41 930.76 L304.9 932.2 L305.4 933.63 L305.92 935.06 L306.47 936.49 L307.03 937.92 L307.63 939.33 L308.27 940.72 L308.95 942.07 L309.67 943.38 L310.46 944.71 L311.32 946.03 L312.24 947.3 L313.22 948.47 L314.27 949.5 L315.4 950.4 L316.68 951.24 L318.05 952.01 L319.47 952.67 L320.9 953.21 L322.33 953.63 L323.79 954.02 L325.29 954.37 L326.8 954.67 L328.32 954.91 L329.84 955.07 L331.35 955.17 L332.86 955.27 L334.39 955.35 L335.91 955.41 L337.44 955.46 L338.96 955.49 L340.48 955.5 L342.01 955.49 L343.53 955.47 L345.05 955.43 L346.57 955.39 L348.1 955.35 L349.62 955.3 L351.14 955.23 L352.66 955.15 L354.18 955.04 L355.7 954.93 L357.22 954.82 L358.74 954.73 L360.26 954.66 L361.78 954.6 L363.3 954.55 L364.82 954.5 L366.34 954.45 L367.86 954.4 L369.39 954.36 L370.91 954.3 L372.43 954.25 L373.95 954.18 L375.47 954.11 L376.99 954.03 L378.51 953.95 L380.03 953.86 L381.55 953.76 L383.07 953.66 L384.59 953.56 L386.11 953.45 L387.63 953.34 L389.15 953.24 L390.67 953.13 L392.19 953.03 L393.71 952.93 L395.22 952.84 L396.74 952.75 L398.26 952.66 L399.78 952.59 L401.31 952.52 L402.83 952.45 L404.35 952.39 L405.87 952.33 L407.39 952.27 L408.91 952.21 L410.43 952.15 L411.95 952.09 L413.47 952.04 L414.99 951.98 L416.52 951.93 L418.04 951.88 L419.56 951.83 L421.08 951.78 L422.6 951.73 L424.13 951.68 L425.65 951.64 L427.17 951.6 L428.69 951.56 L430.21 951.52 L431.74 951.49 L433.26 951.45 L434.78 951.42 L436.3 951.4 L437.83 951.37 L439.35 951.35" fill="none" stroke="#1a1a1a" stroke-width="1.3" stroke-dasharray="6.2 4.7"/>
<path d="M302.7 909.8 L302.99 911.3 L303.3 912.8 L303.63 914.29 L303.98 915.77 L304.35 917.25 L304.74 918.72 L305.15 920.19 L305.57 921.65 L306.02 923.12 L306.5 924.57 L307 926.02 L307.52 927.45 L308.08 928.86 L308.66 930.26 L309.29 931.67 L309.95 933.06 L310.66 934.44 L311.41 935.78 L312.21 937.06 L313.07 938.27 L314.02 939.45 L315.07 940.61 L316.18 941.7 L317.34 942.7 L318.54 943.6 L319.79 944.43 L321.12 945.22 L322.5 945.95 L323.91 946.58 L325.34 947.09 L326.78 947.49 L328.25 947.86 L329.75 948.19 L331.26 948.47 L332.79 948.7 L334.31 948.87 L335.82 948.99 L337.34 949.1 L338.87 949.19 L340.39 949.26 L341.92 949.3 L343.44 949.3 L344.97 949.3 L346.49 949.3 L348.02 949.3 L349.54 949.3 L351.07 949.28 L352.59 949.23 L354.11 949.15 L355.64 949.05 L357.16 948.95 L358.68 948.84 L360.2 948.75 L361.72 948.65 L363.24 948.54 L364.77 948.43 L366.29 948.32 L367.81 948.21 L369.33 948.11 L370.85 948.01 L372.37 947.91 L373.89 947.81 L375.42 947.71 L376.94 947.62 L378.46 947.52 L379.98 947.42 L381.5 947.33 L383.02 947.23 L384.55 947.14 L386.07 947.04 L387.59 946.95 L389.11 946.86 L390.63 946.76 L392.16 946.67 L393.68 946.58 L395.2 946.49 L396.72 946.4 L398.24 946.3 L399.77 946.21 L401.29 946.12 L402.81 946.03 L404.33 945.95 L405.86 945.86 L407.38 945.77 L408.9 945.68 L410.42 945.59 L411.94 945.5 L413.47 945.42 L414.99 945.33 L416.51 945.24 L418.03 945.16 L419.56 945.07 L421.08 944.99 L422.6 944.9 L424.12 944.82 L425.65 944.74 L427.17 944.65 L428.69 944.57 L430.21 944.49 L431.74 944.4 L433.26 944.32 L434.78 944.24 L436.3 944.16 L437.83 944.08 L439.35 944" fill="none" stroke="#1a1a1a" stroke-width="1.3"/>
<path d="M295 860.9 V979.7 H446.3" fill="none" stroke="#1c1c1c" stroke-width="1.05"/>
<path d="M295 973.9 h-3.9 M295 963.16 h-3.9 M295 952.42 h-3.9 M295 941.68 h-3.9 M295 930.94 h-3.9 M295 920.2 h-3.9 M295 909.46 h-3.9 M295 898.72 h-3.9 M295 887.98 h-3.9 M295 877.24 h-3.9 M295 866.5 h-3.9 M300.5 979.7 v3.9 M320.57 979.7 v3.9 M340.65 979.7 v3.9 M360.73 979.7 v3.9 M380.8 979.7 v3.9 M400.88 979.7 v3.9 M420.95 979.7 v3.9 M441.02 979.7 v3.9" fill="none" stroke="#1c1c1c" stroke-width="1"/>
<text class="tk" transform="translate(287.4 973.9) rotate(-90)">0</text>
<text class="tk" transform="translate(287.4 963.16) rotate(-90)">2</text>
<text class="tk" transform="translate(287.4 952.42) rotate(-90)">4</text>
<text class="tk" transform="translate(287.4 941.68) rotate(-90)">6</text>
<text class="tk" transform="translate(287.4 930.94) rotate(-90)">8</text>
<text class="tk" transform="translate(287.4 920.2) rotate(-90)">10</text>
<text class="tk" transform="translate(287.4 909.46) rotate(-90)">12</text>
<text class="tk" transform="translate(287.4 898.72) rotate(-90)">14</text>
<text class="tk" transform="translate(287.4 887.98) rotate(-90)">16</text>
<text class="tk" transform="translate(287.4 877.24) rotate(-90)">18</text>
<text class="tk" transform="translate(287.4 866.5) rotate(-90)">20</text>
<text class="tk" x="300.5" y="990.8">15</text>
<text class="tk" x="320.57" y="990.8">20</text>
<text class="tk" x="340.65" y="990.8">25</text>
<text class="tk" x="360.73" y="990.8">30</text>
<text class="tk" x="380.8" y="990.8">35</text>
<text class="tk" x="400.88" y="990.8">40</text>
<text class="tk" x="420.95" y="990.8">45</text>
<text class="tk" x="441.02" y="990.8">50</text>
<text class="ti" style="font-size:9.35px" x="370.65" y="856">Random effects meta-analysis</text></g>
</svg>
</body></html>
